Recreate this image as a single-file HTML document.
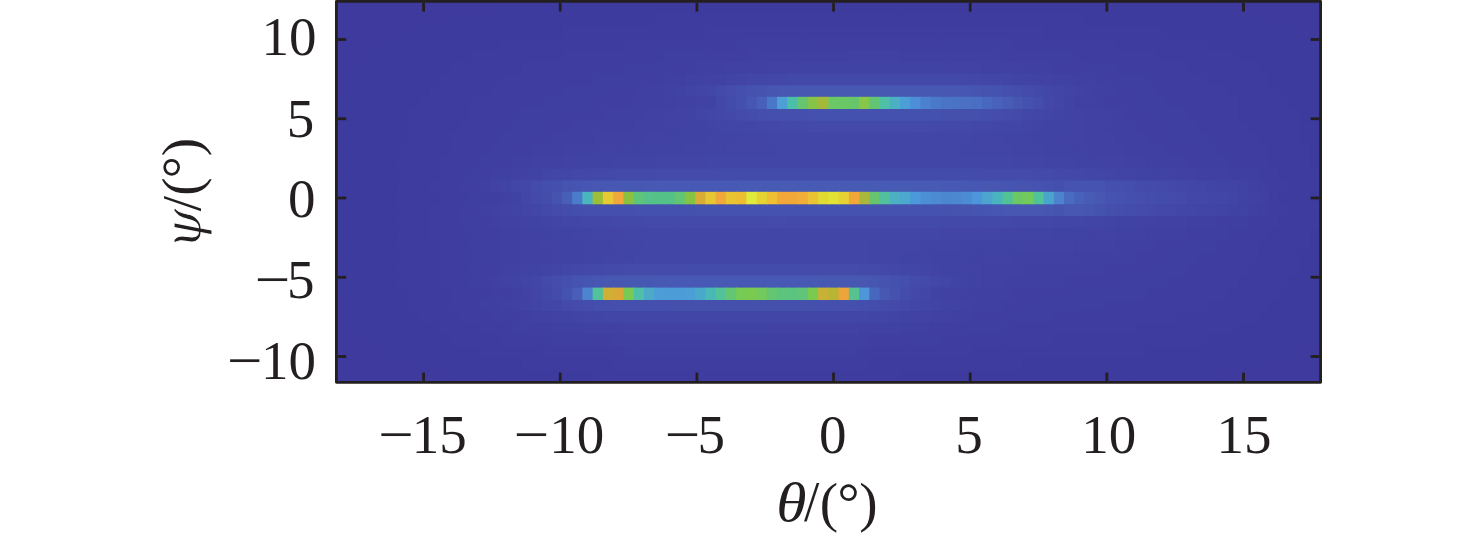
<!DOCTYPE html>
<html><head><meta charset="utf-8"><title>plot</title>
<style>
html,body{margin:0;padding:0;background:#fff;}
body{width:1476px;height:538px;overflow:hidden;}
svg{display:block;}
text{font-family:"Liberation Serif","DejaVu Serif",serif;font-size:55.0px;fill:#231f20;}
.i{font-style:italic;}
</style></head><body>
<svg width="1476" height="538" viewBox="0 0 1476 538">
<rect x="0" y="0" width="1476" height="538" fill="#fff"/>
<rect x="336.4" y="1.4" width="984.2" height="380.9" fill="#3E3A9E"/>
<g>
<rect x="336.40" y="2.00" width="154.74" height="12.89" fill="#3E3A9E"/>
<rect x="490.13" y="2.00" width="82.99" height="12.89" fill="#3E3B9E"/>
<rect x="572.13" y="2.00" width="585.19" height="12.89" fill="#3E3B9F"/>
<rect x="1156.32" y="2.00" width="72.74" height="12.89" fill="#3E3B9E"/>
<rect x="1228.06" y="2.00" width="92.24" height="12.89" fill="#3E3A9E"/>
<rect x="336.40" y="13.89" width="103.49" height="12.89" fill="#3E3A9E"/>
<rect x="438.89" y="13.89" width="52.25" height="12.89" fill="#3E3B9E"/>
<rect x="490.13" y="13.89" width="164.98" height="12.89" fill="#3E3B9F"/>
<rect x="654.12" y="13.89" width="195.73" height="12.89" fill="#3F3C9F"/>
<rect x="848.85" y="13.89" width="52.25" height="12.89" fill="#3F3CA0"/>
<rect x="900.10" y="13.89" width="185.48" height="12.89" fill="#3F3C9F"/>
<rect x="1084.58" y="13.89" width="144.49" height="12.89" fill="#3E3B9F"/>
<rect x="1228.06" y="13.89" width="42.00" height="12.89" fill="#3E3B9E"/>
<rect x="1269.06" y="13.89" width="51.25" height="12.89" fill="#3E3A9E"/>
<rect x="336.40" y="25.77" width="72.74" height="12.89" fill="#3E3A9E"/>
<rect x="408.14" y="25.77" width="31.75" height="12.89" fill="#3E3B9E"/>
<rect x="438.89" y="25.77" width="123.99" height="12.89" fill="#3E3B9F"/>
<rect x="561.88" y="25.77" width="113.74" height="12.89" fill="#3F3C9F"/>
<rect x="674.62" y="25.77" width="31.75" height="12.89" fill="#3F3CA0"/>
<rect x="705.36" y="25.77" width="339.22" height="12.89" fill="#3F3DA0"/>
<rect x="1043.58" y="25.77" width="21.50" height="12.89" fill="#3F3CA0"/>
<rect x="1064.08" y="25.77" width="103.49" height="12.89" fill="#3F3C9F"/>
<rect x="1166.57" y="25.77" width="103.49" height="12.89" fill="#3E3B9F"/>
<rect x="1269.06" y="25.77" width="31.75" height="12.89" fill="#3E3B9E"/>
<rect x="1299.81" y="25.77" width="20.50" height="12.89" fill="#3E3A9E"/>
<rect x="336.40" y="37.66" width="52.25" height="12.89" fill="#3E3A9E"/>
<rect x="387.64" y="37.66" width="31.75" height="12.89" fill="#3E3B9E"/>
<rect x="418.39" y="37.66" width="82.99" height="12.89" fill="#3E3B9F"/>
<rect x="500.38" y="37.66" width="93.24" height="12.89" fill="#3F3C9F"/>
<rect x="592.62" y="37.66" width="31.75" height="12.89" fill="#3F3CA0"/>
<rect x="623.37" y="37.66" width="93.24" height="12.89" fill="#3F3DA0"/>
<rect x="715.61" y="37.66" width="21.50" height="12.89" fill="#3F3EA0"/>
<rect x="736.11" y="37.66" width="72.74" height="12.89" fill="#3F3EA1"/>
<rect x="807.85" y="37.66" width="134.24" height="12.89" fill="#403FA1"/>
<rect x="941.09" y="37.66" width="72.74" height="12.89" fill="#3F3EA1"/>
<rect x="1012.83" y="37.66" width="21.50" height="12.89" fill="#3F3EA0"/>
<rect x="1033.33" y="37.66" width="82.99" height="12.89" fill="#3F3DA0"/>
<rect x="1115.32" y="37.66" width="21.50" height="12.89" fill="#3F3CA0"/>
<rect x="1135.82" y="37.66" width="72.74" height="12.89" fill="#3F3C9F"/>
<rect x="1207.57" y="37.66" width="82.99" height="12.89" fill="#3E3B9F"/>
<rect x="1289.56" y="37.66" width="30.75" height="12.89" fill="#3E3B9E"/>
<rect x="336.40" y="49.55" width="31.75" height="12.89" fill="#3E3A9E"/>
<rect x="367.15" y="49.55" width="31.75" height="12.89" fill="#3E3B9E"/>
<rect x="397.89" y="49.55" width="72.74" height="12.89" fill="#3E3B9F"/>
<rect x="469.64" y="49.55" width="72.74" height="12.89" fill="#3F3C9F"/>
<rect x="541.38" y="49.55" width="21.50" height="12.89" fill="#3F3CA0"/>
<rect x="561.88" y="49.55" width="93.24" height="12.89" fill="#3F3DA0"/>
<rect x="654.12" y="49.55" width="11.25" height="12.89" fill="#3F3EA0"/>
<rect x="664.37" y="49.55" width="42.00" height="12.89" fill="#3F3EA1"/>
<rect x="705.36" y="49.55" width="42.00" height="12.89" fill="#403FA1"/>
<rect x="746.36" y="49.55" width="11.25" height="12.89" fill="#403FA2"/>
<rect x="756.61" y="49.55" width="93.24" height="12.89" fill="#4040A2"/>
<rect x="848.85" y="49.55" width="52.25" height="12.89" fill="#4041A2"/>
<rect x="900.10" y="49.55" width="93.24" height="12.89" fill="#4040A2"/>
<rect x="992.34" y="49.55" width="11.25" height="12.89" fill="#403FA2"/>
<rect x="1002.59" y="49.55" width="42.00" height="12.89" fill="#403FA1"/>
<rect x="1043.58" y="49.55" width="31.75" height="12.89" fill="#3F3EA1"/>
<rect x="1074.33" y="49.55" width="21.50" height="12.89" fill="#3F3EA0"/>
<rect x="1094.83" y="49.55" width="62.49" height="12.89" fill="#3F3DA0"/>
<rect x="1156.32" y="49.55" width="21.50" height="12.89" fill="#3F3CA0"/>
<rect x="1176.82" y="49.55" width="62.49" height="12.89" fill="#3F3C9F"/>
<rect x="1238.31" y="49.55" width="72.74" height="12.89" fill="#3E3B9F"/>
<rect x="1310.06" y="49.55" width="10.25" height="12.89" fill="#3E3B9E"/>
<rect x="336.40" y="61.44" width="21.50" height="12.89" fill="#3E3A9E"/>
<rect x="356.90" y="61.44" width="31.75" height="12.89" fill="#3E3B9E"/>
<rect x="387.64" y="61.44" width="62.49" height="12.89" fill="#3E3B9F"/>
<rect x="449.14" y="61.44" width="62.49" height="12.89" fill="#3F3C9F"/>
<rect x="510.63" y="61.44" width="11.25" height="12.89" fill="#3F3CA0"/>
<rect x="520.88" y="61.44" width="82.99" height="12.89" fill="#3F3DA0"/>
<rect x="602.87" y="61.44" width="21.50" height="12.89" fill="#3F3EA0"/>
<rect x="623.37" y="61.44" width="42.00" height="12.89" fill="#3F3EA1"/>
<rect x="664.37" y="61.44" width="31.75" height="12.89" fill="#403FA1"/>
<rect x="695.12" y="61.44" width="11.25" height="12.89" fill="#403FA2"/>
<rect x="705.36" y="61.44" width="21.50" height="12.89" fill="#4040A2"/>
<rect x="725.86" y="61.44" width="11.25" height="12.89" fill="#4041A2"/>
<rect x="736.11" y="61.44" width="31.75" height="12.89" fill="#4041A3"/>
<rect x="766.86" y="61.44" width="31.75" height="12.89" fill="#4142A3"/>
<rect x="797.61" y="61.44" width="11.25" height="12.89" fill="#4142A4"/>
<rect x="807.85" y="61.44" width="134.24" height="12.89" fill="#4143A4"/>
<rect x="941.09" y="61.44" width="11.25" height="12.89" fill="#4142A4"/>
<rect x="951.34" y="61.44" width="31.75" height="12.89" fill="#4142A3"/>
<rect x="982.09" y="61.44" width="31.75" height="12.89" fill="#4041A3"/>
<rect x="1012.83" y="61.44" width="11.25" height="12.89" fill="#4041A2"/>
<rect x="1023.08" y="61.44" width="31.75" height="12.89" fill="#4040A2"/>
<rect x="1053.83" y="61.44" width="31.75" height="12.89" fill="#403FA1"/>
<rect x="1084.58" y="61.44" width="31.75" height="12.89" fill="#3F3EA1"/>
<rect x="1115.32" y="61.44" width="11.25" height="12.89" fill="#3F3EA0"/>
<rect x="1125.57" y="61.44" width="62.49" height="12.89" fill="#3F3DA0"/>
<rect x="1187.07" y="61.44" width="21.50" height="12.89" fill="#3F3CA0"/>
<rect x="1207.57" y="61.44" width="52.25" height="12.89" fill="#3F3C9F"/>
<rect x="1258.81" y="61.44" width="61.49" height="12.89" fill="#3E3B9F"/>
<rect x="336.40" y="73.32" width="11.25" height="12.89" fill="#3E3A9E"/>
<rect x="346.65" y="73.32" width="31.75" height="12.89" fill="#3E3B9E"/>
<rect x="377.40" y="73.32" width="62.49" height="12.89" fill="#3E3B9F"/>
<rect x="438.89" y="73.32" width="52.25" height="12.89" fill="#3F3C9F"/>
<rect x="490.13" y="73.32" width="11.25" height="12.89" fill="#3F3CA0"/>
<rect x="500.38" y="73.32" width="72.74" height="12.89" fill="#3F3DA0"/>
<rect x="572.13" y="73.32" width="21.50" height="12.89" fill="#3F3EA0"/>
<rect x="592.62" y="73.32" width="42.00" height="12.89" fill="#3F3EA1"/>
<rect x="633.62" y="73.32" width="31.75" height="12.89" fill="#403FA1"/>
<rect x="664.37" y="73.32" width="21.50" height="12.89" fill="#4040A2"/>
<rect x="684.87" y="73.32" width="21.50" height="12.89" fill="#4041A3"/>
<rect x="705.36" y="73.32" width="11.25" height="12.89" fill="#4142A4"/>
<rect x="715.61" y="73.32" width="11.25" height="12.89" fill="#4143A4"/>
<rect x="725.86" y="73.32" width="11.25" height="12.89" fill="#4144A5"/>
<rect x="736.11" y="73.32" width="11.25" height="12.89" fill="#4245A6"/>
<rect x="746.36" y="73.32" width="11.25" height="12.89" fill="#4246A7"/>
<rect x="756.61" y="73.32" width="11.25" height="12.89" fill="#4247A7"/>
<rect x="766.86" y="73.32" width="21.50" height="12.89" fill="#4348A8"/>
<rect x="787.36" y="73.32" width="11.25" height="12.89" fill="#4349A8"/>
<rect x="797.61" y="73.32" width="154.74" height="12.89" fill="#4349A9"/>
<rect x="951.34" y="73.32" width="11.25" height="12.89" fill="#4349A8"/>
<rect x="961.59" y="73.32" width="21.50" height="12.89" fill="#4348A8"/>
<rect x="982.09" y="73.32" width="11.25" height="12.89" fill="#4247A7"/>
<rect x="992.34" y="73.32" width="11.25" height="12.89" fill="#4246A6"/>
<rect x="1002.59" y="73.32" width="11.25" height="12.89" fill="#4245A6"/>
<rect x="1012.83" y="73.32" width="11.25" height="12.89" fill="#4144A5"/>
<rect x="1023.08" y="73.32" width="11.25" height="12.89" fill="#4144A4"/>
<rect x="1033.33" y="73.32" width="11.25" height="12.89" fill="#4143A4"/>
<rect x="1043.58" y="73.32" width="11.25" height="12.89" fill="#4142A3"/>
<rect x="1053.83" y="73.32" width="11.25" height="12.89" fill="#4041A3"/>
<rect x="1064.08" y="73.32" width="11.25" height="12.89" fill="#4041A2"/>
<rect x="1074.33" y="73.32" width="11.25" height="12.89" fill="#4040A2"/>
<rect x="1084.58" y="73.32" width="11.25" height="12.89" fill="#403FA2"/>
<rect x="1094.83" y="73.32" width="21.50" height="12.89" fill="#403FA1"/>
<rect x="1115.32" y="73.32" width="31.75" height="12.89" fill="#3F3EA1"/>
<rect x="1146.07" y="73.32" width="11.25" height="12.89" fill="#3F3EA0"/>
<rect x="1156.32" y="73.32" width="52.25" height="12.89" fill="#3F3DA0"/>
<rect x="1207.57" y="73.32" width="21.50" height="12.89" fill="#3F3CA0"/>
<rect x="1228.06" y="73.32" width="42.00" height="12.89" fill="#3F3C9F"/>
<rect x="1269.06" y="73.32" width="51.25" height="12.89" fill="#3E3B9F"/>
<rect x="336.40" y="85.21" width="11.25" height="12.89" fill="#3E3A9E"/>
<rect x="346.65" y="85.21" width="21.50" height="12.89" fill="#3E3B9E"/>
<rect x="367.15" y="85.21" width="62.49" height="12.89" fill="#3E3B9F"/>
<rect x="428.64" y="85.21" width="42.00" height="12.89" fill="#3F3C9F"/>
<rect x="469.64" y="85.21" width="21.50" height="12.89" fill="#3F3CA0"/>
<rect x="490.13" y="85.21" width="52.25" height="12.89" fill="#3F3DA0"/>
<rect x="541.38" y="85.21" width="21.50" height="12.89" fill="#3F3EA0"/>
<rect x="561.88" y="85.21" width="42.00" height="12.89" fill="#3F3EA1"/>
<rect x="602.87" y="85.21" width="31.75" height="12.89" fill="#403FA1"/>
<rect x="633.62" y="85.21" width="11.25" height="12.89" fill="#403FA2"/>
<rect x="643.87" y="85.21" width="21.50" height="12.89" fill="#4040A2"/>
<rect x="664.37" y="85.21" width="11.25" height="12.89" fill="#4041A3"/>
<rect x="674.62" y="85.21" width="11.25" height="12.89" fill="#4142A3"/>
<rect x="684.87" y="85.21" width="11.25" height="12.89" fill="#4144A4"/>
<rect x="695.12" y="85.21" width="11.25" height="12.89" fill="#4245A6"/>
<rect x="705.36" y="85.21" width="11.25" height="12.89" fill="#4247A7"/>
<rect x="715.61" y="85.21" width="11.25" height="12.89" fill="#434AA9"/>
<rect x="725.86" y="85.21" width="11.25" height="12.89" fill="#444DAB"/>
<rect x="736.11" y="85.21" width="11.25" height="12.89" fill="#454FAD"/>
<rect x="746.36" y="85.21" width="11.25" height="12.89" fill="#4652AF"/>
<rect x="756.61" y="85.21" width="11.25" height="12.89" fill="#4654B0"/>
<rect x="766.86" y="85.21" width="11.25" height="12.89" fill="#4656B1"/>
<rect x="777.11" y="85.21" width="21.50" height="12.89" fill="#4757B2"/>
<rect x="797.61" y="85.21" width="11.25" height="12.89" fill="#4757B3"/>
<rect x="807.85" y="85.21" width="134.24" height="12.89" fill="#4758B3"/>
<rect x="941.09" y="85.21" width="11.25" height="12.89" fill="#4757B3"/>
<rect x="951.34" y="85.21" width="11.25" height="12.89" fill="#4757B2"/>
<rect x="961.59" y="85.21" width="11.25" height="12.89" fill="#4756B2"/>
<rect x="971.84" y="85.21" width="11.25" height="12.89" fill="#4655B1"/>
<rect x="982.09" y="85.21" width="11.25" height="12.89" fill="#4654B0"/>
<rect x="992.34" y="85.21" width="11.25" height="12.89" fill="#4552AF"/>
<rect x="1002.59" y="85.21" width="11.25" height="12.89" fill="#4550AD"/>
<rect x="1012.83" y="85.21" width="11.25" height="12.89" fill="#444DAC"/>
<rect x="1023.08" y="85.21" width="11.25" height="12.89" fill="#444BAA"/>
<rect x="1033.33" y="85.21" width="11.25" height="12.89" fill="#4349A9"/>
<rect x="1043.58" y="85.21" width="11.25" height="12.89" fill="#4247A7"/>
<rect x="1053.83" y="85.21" width="11.25" height="12.89" fill="#4245A6"/>
<rect x="1064.08" y="85.21" width="11.25" height="12.89" fill="#4144A5"/>
<rect x="1074.33" y="85.21" width="11.25" height="12.89" fill="#4142A4"/>
<rect x="1084.58" y="85.21" width="11.25" height="12.89" fill="#4041A3"/>
<rect x="1094.83" y="85.21" width="11.25" height="12.89" fill="#4040A2"/>
<rect x="1105.08" y="85.21" width="11.25" height="12.89" fill="#403FA2"/>
<rect x="1115.32" y="85.21" width="21.50" height="12.89" fill="#403FA1"/>
<rect x="1135.82" y="85.21" width="21.50" height="12.89" fill="#3F3EA1"/>
<rect x="1156.32" y="85.21" width="21.50" height="12.89" fill="#3F3EA0"/>
<rect x="1176.82" y="85.21" width="52.25" height="12.89" fill="#3F3DA0"/>
<rect x="1228.06" y="85.21" width="11.25" height="12.89" fill="#3F3CA0"/>
<rect x="1238.31" y="85.21" width="42.00" height="12.89" fill="#3F3C9F"/>
<rect x="1279.31" y="85.21" width="41.00" height="12.89" fill="#3E3B9F"/>
<rect x="336.40" y="108.99" width="21.50" height="12.89" fill="#3E3B9E"/>
<rect x="356.90" y="108.99" width="52.25" height="12.89" fill="#3E3B9F"/>
<rect x="408.14" y="108.99" width="42.00" height="12.89" fill="#3F3C9F"/>
<rect x="449.14" y="108.99" width="21.50" height="12.89" fill="#3F3CA0"/>
<rect x="469.64" y="108.99" width="42.00" height="12.89" fill="#3F3DA0"/>
<rect x="510.63" y="108.99" width="11.25" height="12.89" fill="#3F3EA0"/>
<rect x="520.88" y="108.99" width="42.00" height="12.89" fill="#3F3EA1"/>
<rect x="561.88" y="108.99" width="42.00" height="12.89" fill="#403FA1"/>
<rect x="602.87" y="108.99" width="11.25" height="12.89" fill="#403FA2"/>
<rect x="613.12" y="108.99" width="31.75" height="12.89" fill="#4040A2"/>
<rect x="643.87" y="108.99" width="11.25" height="12.89" fill="#4041A2"/>
<rect x="654.12" y="108.99" width="11.25" height="12.89" fill="#4041A3"/>
<rect x="664.37" y="108.99" width="11.25" height="12.89" fill="#4142A3"/>
<rect x="674.62" y="108.99" width="11.25" height="12.89" fill="#4142A4"/>
<rect x="684.87" y="108.99" width="11.25" height="12.89" fill="#4143A4"/>
<rect x="695.12" y="108.99" width="11.25" height="12.89" fill="#4245A5"/>
<rect x="705.36" y="108.99" width="11.25" height="12.89" fill="#4246A6"/>
<rect x="715.61" y="108.99" width="11.25" height="12.89" fill="#4348A8"/>
<rect x="725.86" y="108.99" width="11.25" height="12.89" fill="#4349A9"/>
<rect x="736.11" y="108.99" width="11.25" height="12.89" fill="#444BAA"/>
<rect x="746.36" y="108.99" width="11.25" height="12.89" fill="#444DAB"/>
<rect x="756.61" y="108.99" width="11.25" height="12.89" fill="#454EAC"/>
<rect x="766.86" y="108.99" width="11.25" height="12.89" fill="#454FAD"/>
<rect x="777.11" y="108.99" width="11.25" height="12.89" fill="#4550AD"/>
<rect x="787.36" y="108.99" width="21.50" height="12.89" fill="#4550AE"/>
<rect x="807.85" y="108.99" width="134.24" height="12.89" fill="#4551AE"/>
<rect x="941.09" y="108.99" width="11.25" height="12.89" fill="#4550AE"/>
<rect x="951.34" y="108.99" width="21.50" height="12.89" fill="#4550AD"/>
<rect x="971.84" y="108.99" width="11.25" height="12.89" fill="#454FAD"/>
<rect x="982.09" y="108.99" width="11.25" height="12.89" fill="#444EAC"/>
<rect x="992.34" y="108.99" width="11.25" height="12.89" fill="#444DAB"/>
<rect x="1002.59" y="108.99" width="11.25" height="12.89" fill="#444BAA"/>
<rect x="1012.83" y="108.99" width="11.25" height="12.89" fill="#434AA9"/>
<rect x="1023.08" y="108.99" width="11.25" height="12.89" fill="#4348A8"/>
<rect x="1033.33" y="108.99" width="11.25" height="12.89" fill="#4247A7"/>
<rect x="1043.58" y="108.99" width="11.25" height="12.89" fill="#4245A6"/>
<rect x="1053.83" y="108.99" width="11.25" height="12.89" fill="#4144A5"/>
<rect x="1064.08" y="108.99" width="11.25" height="12.89" fill="#4143A4"/>
<rect x="1074.33" y="108.99" width="11.25" height="12.89" fill="#4142A3"/>
<rect x="1084.58" y="108.99" width="11.25" height="12.89" fill="#4041A3"/>
<rect x="1094.83" y="108.99" width="11.25" height="12.89" fill="#4041A2"/>
<rect x="1105.08" y="108.99" width="21.50" height="12.89" fill="#4040A2"/>
<rect x="1125.57" y="108.99" width="31.75" height="12.89" fill="#403FA1"/>
<rect x="1156.32" y="108.99" width="31.75" height="12.89" fill="#3F3EA1"/>
<rect x="1187.07" y="108.99" width="11.25" height="12.89" fill="#3F3EA0"/>
<rect x="1197.32" y="108.99" width="42.00" height="12.89" fill="#3F3DA0"/>
<rect x="1238.31" y="108.99" width="21.50" height="12.89" fill="#3F3CA0"/>
<rect x="1258.81" y="108.99" width="42.00" height="12.89" fill="#3F3C9F"/>
<rect x="1299.81" y="108.99" width="20.50" height="12.89" fill="#3E3B9F"/>
<rect x="336.40" y="120.88" width="21.50" height="12.89" fill="#3E3B9E"/>
<rect x="356.90" y="120.88" width="52.25" height="12.89" fill="#3E3B9F"/>
<rect x="408.14" y="120.88" width="42.00" height="12.89" fill="#3F3C9F"/>
<rect x="449.14" y="120.88" width="11.25" height="12.89" fill="#3F3CA0"/>
<rect x="459.39" y="120.88" width="42.00" height="12.89" fill="#3F3DA0"/>
<rect x="500.38" y="120.88" width="11.25" height="12.89" fill="#3F3EA0"/>
<rect x="510.63" y="120.88" width="31.75" height="12.89" fill="#3F3EA1"/>
<rect x="541.38" y="120.88" width="31.75" height="12.89" fill="#403FA1"/>
<rect x="572.13" y="120.88" width="11.25" height="12.89" fill="#403FA2"/>
<rect x="582.38" y="120.88" width="52.25" height="12.89" fill="#4040A2"/>
<rect x="633.62" y="120.88" width="31.75" height="12.89" fill="#4041A3"/>
<rect x="664.37" y="120.88" width="11.25" height="12.89" fill="#4142A3"/>
<rect x="674.62" y="120.88" width="11.25" height="12.89" fill="#4142A4"/>
<rect x="684.87" y="120.88" width="21.50" height="12.89" fill="#4143A4"/>
<rect x="705.36" y="120.88" width="11.25" height="12.89" fill="#4144A5"/>
<rect x="715.61" y="120.88" width="11.25" height="12.89" fill="#4245A5"/>
<rect x="725.86" y="120.88" width="11.25" height="12.89" fill="#4246A6"/>
<rect x="736.11" y="120.88" width="11.25" height="12.89" fill="#4246A7"/>
<rect x="746.36" y="120.88" width="11.25" height="12.89" fill="#4247A7"/>
<rect x="756.61" y="120.88" width="21.50" height="12.89" fill="#4348A8"/>
<rect x="777.11" y="120.88" width="11.25" height="12.89" fill="#4349A8"/>
<rect x="787.36" y="120.88" width="21.50" height="12.89" fill="#4349A9"/>
<rect x="807.85" y="120.88" width="123.99" height="12.89" fill="#434AA9"/>
<rect x="930.84" y="120.88" width="31.75" height="12.89" fill="#4349A9"/>
<rect x="961.59" y="120.88" width="11.25" height="12.89" fill="#4349A8"/>
<rect x="971.84" y="120.88" width="21.50" height="12.89" fill="#4348A8"/>
<rect x="992.34" y="120.88" width="11.25" height="12.89" fill="#4247A7"/>
<rect x="1002.59" y="120.88" width="11.25" height="12.89" fill="#4246A7"/>
<rect x="1012.83" y="120.88" width="11.25" height="12.89" fill="#4246A6"/>
<rect x="1023.08" y="120.88" width="11.25" height="12.89" fill="#4245A5"/>
<rect x="1033.33" y="120.88" width="11.25" height="12.89" fill="#4144A5"/>
<rect x="1043.58" y="120.88" width="21.50" height="12.89" fill="#4143A4"/>
<rect x="1064.08" y="120.88" width="21.50" height="12.89" fill="#4142A3"/>
<rect x="1084.58" y="120.88" width="11.25" height="12.89" fill="#4041A3"/>
<rect x="1094.83" y="120.88" width="11.25" height="12.89" fill="#4041A2"/>
<rect x="1105.08" y="120.88" width="21.50" height="12.89" fill="#4040A2"/>
<rect x="1125.57" y="120.88" width="11.25" height="12.89" fill="#403FA2"/>
<rect x="1135.82" y="120.88" width="31.75" height="12.89" fill="#403FA1"/>
<rect x="1166.57" y="120.88" width="31.75" height="12.89" fill="#3F3EA1"/>
<rect x="1197.32" y="120.88" width="11.25" height="12.89" fill="#3F3EA0"/>
<rect x="1207.57" y="120.88" width="42.00" height="12.89" fill="#3F3DA0"/>
<rect x="1248.56" y="120.88" width="11.25" height="12.89" fill="#3F3CA0"/>
<rect x="1258.81" y="120.88" width="42.00" height="12.89" fill="#3F3C9F"/>
<rect x="1299.81" y="120.88" width="20.50" height="12.89" fill="#3E3B9F"/>
<rect x="336.40" y="132.76" width="21.50" height="12.89" fill="#3E3B9E"/>
<rect x="356.90" y="132.76" width="52.25" height="12.89" fill="#3E3B9F"/>
<rect x="408.14" y="132.76" width="31.75" height="12.89" fill="#3F3C9F"/>
<rect x="438.89" y="132.76" width="11.25" height="12.89" fill="#3F3CA0"/>
<rect x="449.14" y="132.76" width="42.00" height="12.89" fill="#3F3DA0"/>
<rect x="490.13" y="132.76" width="11.25" height="12.89" fill="#3F3EA0"/>
<rect x="500.38" y="132.76" width="21.50" height="12.89" fill="#3F3EA1"/>
<rect x="520.88" y="132.76" width="31.75" height="12.89" fill="#403FA1"/>
<rect x="551.63" y="132.76" width="11.25" height="12.89" fill="#403FA2"/>
<rect x="561.88" y="132.76" width="31.75" height="12.89" fill="#4040A2"/>
<rect x="592.62" y="132.76" width="21.50" height="12.89" fill="#4041A2"/>
<rect x="613.12" y="132.76" width="31.75" height="12.89" fill="#4041A3"/>
<rect x="643.87" y="132.76" width="21.50" height="12.89" fill="#4142A3"/>
<rect x="664.37" y="132.76" width="11.25" height="12.89" fill="#4142A4"/>
<rect x="674.62" y="132.76" width="31.75" height="12.89" fill="#4143A4"/>
<rect x="705.36" y="132.76" width="11.25" height="12.89" fill="#4144A4"/>
<rect x="715.61" y="132.76" width="21.50" height="12.89" fill="#4144A5"/>
<rect x="736.11" y="132.76" width="11.25" height="12.89" fill="#4245A5"/>
<rect x="746.36" y="132.76" width="21.50" height="12.89" fill="#4245A6"/>
<rect x="766.86" y="132.76" width="42.00" height="12.89" fill="#4246A6"/>
<rect x="807.85" y="132.76" width="21.50" height="12.89" fill="#4246A7"/>
<rect x="828.35" y="132.76" width="82.99" height="12.89" fill="#4247A7"/>
<rect x="910.34" y="132.76" width="31.75" height="12.89" fill="#4246A7"/>
<rect x="941.09" y="132.76" width="31.75" height="12.89" fill="#4246A6"/>
<rect x="971.84" y="132.76" width="21.50" height="12.89" fill="#4245A6"/>
<rect x="992.34" y="132.76" width="11.25" height="12.89" fill="#4245A5"/>
<rect x="1002.59" y="132.76" width="31.75" height="12.89" fill="#4144A5"/>
<rect x="1033.33" y="132.76" width="21.50" height="12.89" fill="#4143A4"/>
<rect x="1053.83" y="132.76" width="11.25" height="12.89" fill="#4142A4"/>
<rect x="1064.08" y="132.76" width="21.50" height="12.89" fill="#4142A3"/>
<rect x="1084.58" y="132.76" width="21.50" height="12.89" fill="#4041A3"/>
<rect x="1105.08" y="132.76" width="11.25" height="12.89" fill="#4041A2"/>
<rect x="1115.32" y="132.76" width="31.75" height="12.89" fill="#4040A2"/>
<rect x="1146.07" y="132.76" width="31.75" height="12.89" fill="#403FA1"/>
<rect x="1176.82" y="132.76" width="31.75" height="12.89" fill="#3F3EA1"/>
<rect x="1207.57" y="132.76" width="11.25" height="12.89" fill="#3F3EA0"/>
<rect x="1217.81" y="132.76" width="42.00" height="12.89" fill="#3F3DA0"/>
<rect x="1258.81" y="132.76" width="11.25" height="12.89" fill="#3F3CA0"/>
<rect x="1269.06" y="132.76" width="31.75" height="12.89" fill="#3F3C9F"/>
<rect x="1299.81" y="132.76" width="20.50" height="12.89" fill="#3E3B9F"/>
<rect x="336.40" y="144.65" width="21.50" height="12.89" fill="#3E3B9E"/>
<rect x="356.90" y="144.65" width="42.00" height="12.89" fill="#3E3B9F"/>
<rect x="397.89" y="144.65" width="42.00" height="12.89" fill="#3F3C9F"/>
<rect x="438.89" y="144.65" width="11.25" height="12.89" fill="#3F3CA0"/>
<rect x="449.14" y="144.65" width="31.75" height="12.89" fill="#3F3DA0"/>
<rect x="479.89" y="144.65" width="11.25" height="12.89" fill="#3F3EA0"/>
<rect x="490.13" y="144.65" width="21.50" height="12.89" fill="#3F3EA1"/>
<rect x="510.63" y="144.65" width="21.50" height="12.89" fill="#403FA1"/>
<rect x="531.13" y="144.65" width="31.75" height="12.89" fill="#4040A2"/>
<rect x="561.88" y="144.65" width="11.25" height="12.89" fill="#4041A2"/>
<rect x="572.13" y="144.65" width="21.50" height="12.89" fill="#4041A3"/>
<rect x="592.62" y="144.65" width="31.75" height="12.89" fill="#4142A3"/>
<rect x="623.37" y="144.65" width="11.25" height="12.89" fill="#4142A4"/>
<rect x="633.62" y="144.65" width="52.25" height="12.89" fill="#4143A4"/>
<rect x="684.87" y="144.65" width="42.00" height="12.89" fill="#4144A5"/>
<rect x="725.86" y="144.65" width="21.50" height="12.89" fill="#4245A5"/>
<rect x="746.36" y="144.65" width="31.75" height="12.89" fill="#4245A6"/>
<rect x="777.11" y="144.65" width="72.74" height="12.89" fill="#4246A6"/>
<rect x="848.85" y="144.65" width="42.00" height="12.89" fill="#4246A7"/>
<rect x="889.85" y="144.65" width="72.74" height="12.89" fill="#4246A6"/>
<rect x="961.59" y="144.65" width="31.75" height="12.89" fill="#4245A6"/>
<rect x="992.34" y="144.65" width="21.50" height="12.89" fill="#4245A5"/>
<rect x="1012.83" y="144.65" width="21.50" height="12.89" fill="#4144A5"/>
<rect x="1033.33" y="144.65" width="11.25" height="12.89" fill="#4144A4"/>
<rect x="1043.58" y="144.65" width="31.75" height="12.89" fill="#4143A4"/>
<rect x="1074.33" y="144.65" width="21.50" height="12.89" fill="#4142A3"/>
<rect x="1094.83" y="144.65" width="21.50" height="12.89" fill="#4041A3"/>
<rect x="1115.32" y="144.65" width="11.25" height="12.89" fill="#4041A2"/>
<rect x="1125.57" y="144.65" width="31.75" height="12.89" fill="#4040A2"/>
<rect x="1156.32" y="144.65" width="11.25" height="12.89" fill="#403FA2"/>
<rect x="1166.57" y="144.65" width="31.75" height="12.89" fill="#403FA1"/>
<rect x="1197.32" y="144.65" width="21.50" height="12.89" fill="#3F3EA1"/>
<rect x="1217.81" y="144.65" width="11.25" height="12.89" fill="#3F3EA0"/>
<rect x="1228.06" y="144.65" width="42.00" height="12.89" fill="#3F3DA0"/>
<rect x="1269.06" y="144.65" width="11.25" height="12.89" fill="#3F3CA0"/>
<rect x="1279.31" y="144.65" width="31.75" height="12.89" fill="#3F3C9F"/>
<rect x="1310.06" y="144.65" width="10.25" height="12.89" fill="#3E3B9F"/>
<rect x="336.40" y="156.54" width="21.50" height="12.89" fill="#3E3B9E"/>
<rect x="356.90" y="156.54" width="42.00" height="12.89" fill="#3E3B9F"/>
<rect x="397.89" y="156.54" width="31.75" height="12.89" fill="#3F3C9F"/>
<rect x="428.64" y="156.54" width="11.25" height="12.89" fill="#3F3CA0"/>
<rect x="438.89" y="156.54" width="31.75" height="12.89" fill="#3F3DA0"/>
<rect x="469.64" y="156.54" width="11.25" height="12.89" fill="#3F3EA0"/>
<rect x="479.89" y="156.54" width="11.25" height="12.89" fill="#3F3EA1"/>
<rect x="490.13" y="156.54" width="21.50" height="12.89" fill="#403FA1"/>
<rect x="510.63" y="156.54" width="21.50" height="12.89" fill="#4040A2"/>
<rect x="531.13" y="156.54" width="11.25" height="12.89" fill="#4041A2"/>
<rect x="541.38" y="156.54" width="21.50" height="12.89" fill="#4041A3"/>
<rect x="561.88" y="156.54" width="11.25" height="12.89" fill="#4142A3"/>
<rect x="572.13" y="156.54" width="11.25" height="12.89" fill="#4142A4"/>
<rect x="582.38" y="156.54" width="31.75" height="12.89" fill="#4143A4"/>
<rect x="613.12" y="156.54" width="42.00" height="12.89" fill="#4144A5"/>
<rect x="654.12" y="156.54" width="21.50" height="12.89" fill="#4245A5"/>
<rect x="674.62" y="156.54" width="31.75" height="12.89" fill="#4245A6"/>
<rect x="705.36" y="156.54" width="52.25" height="12.89" fill="#4246A6"/>
<rect x="756.61" y="156.54" width="21.50" height="12.89" fill="#4246A7"/>
<rect x="777.11" y="156.54" width="175.23" height="12.89" fill="#4247A7"/>
<rect x="951.34" y="156.54" width="21.50" height="12.89" fill="#4246A7"/>
<rect x="971.84" y="156.54" width="42.00" height="12.89" fill="#4246A6"/>
<rect x="1012.83" y="156.54" width="21.50" height="12.89" fill="#4245A6"/>
<rect x="1033.33" y="156.54" width="11.25" height="12.89" fill="#4245A5"/>
<rect x="1043.58" y="156.54" width="21.50" height="12.89" fill="#4144A5"/>
<rect x="1064.08" y="156.54" width="11.25" height="12.89" fill="#4144A4"/>
<rect x="1074.33" y="156.54" width="21.50" height="12.89" fill="#4143A4"/>
<rect x="1094.83" y="156.54" width="11.25" height="12.89" fill="#4142A4"/>
<rect x="1105.08" y="156.54" width="21.50" height="12.89" fill="#4142A3"/>
<rect x="1125.57" y="156.54" width="21.50" height="12.89" fill="#4041A3"/>
<rect x="1146.07" y="156.54" width="31.75" height="12.89" fill="#4040A2"/>
<rect x="1176.82" y="156.54" width="11.25" height="12.89" fill="#403FA2"/>
<rect x="1187.07" y="156.54" width="21.50" height="12.89" fill="#403FA1"/>
<rect x="1207.57" y="156.54" width="21.50" height="12.89" fill="#3F3EA1"/>
<rect x="1228.06" y="156.54" width="11.25" height="12.89" fill="#3F3EA0"/>
<rect x="1238.31" y="156.54" width="31.75" height="12.89" fill="#3F3DA0"/>
<rect x="1269.06" y="156.54" width="11.25" height="12.89" fill="#3F3CA0"/>
<rect x="1279.31" y="156.54" width="31.75" height="12.89" fill="#3F3C9F"/>
<rect x="1310.06" y="156.54" width="10.25" height="12.89" fill="#3E3B9F"/>
<rect x="336.40" y="168.42" width="21.50" height="12.89" fill="#3E3B9E"/>
<rect x="356.90" y="168.42" width="42.00" height="12.89" fill="#3E3B9F"/>
<rect x="397.89" y="168.42" width="31.75" height="12.89" fill="#3F3C9F"/>
<rect x="428.64" y="168.42" width="11.25" height="12.89" fill="#3F3CA0"/>
<rect x="438.89" y="168.42" width="21.50" height="12.89" fill="#3F3DA0"/>
<rect x="459.39" y="168.42" width="11.25" height="12.89" fill="#3F3EA0"/>
<rect x="469.64" y="168.42" width="11.25" height="12.89" fill="#3F3EA1"/>
<rect x="479.89" y="168.42" width="11.25" height="12.89" fill="#403FA1"/>
<rect x="490.13" y="168.42" width="21.50" height="12.89" fill="#4040A2"/>
<rect x="510.63" y="168.42" width="11.25" height="12.89" fill="#4041A3"/>
<rect x="520.88" y="168.42" width="11.25" height="12.89" fill="#4142A4"/>
<rect x="531.13" y="168.42" width="11.25" height="12.89" fill="#4143A4"/>
<rect x="541.38" y="168.42" width="11.25" height="12.89" fill="#4245A5"/>
<rect x="551.63" y="168.42" width="11.25" height="12.89" fill="#4246A6"/>
<rect x="561.88" y="168.42" width="11.25" height="12.89" fill="#4247A7"/>
<rect x="572.13" y="168.42" width="21.50" height="12.89" fill="#4348A8"/>
<rect x="592.62" y="168.42" width="21.50" height="12.89" fill="#4349A9"/>
<rect x="613.12" y="168.42" width="21.50" height="12.89" fill="#434AA9"/>
<rect x="633.62" y="168.42" width="21.50" height="12.89" fill="#434AAA"/>
<rect x="654.12" y="168.42" width="52.25" height="12.89" fill="#444BAA"/>
<rect x="705.36" y="168.42" width="11.25" height="12.89" fill="#444BAB"/>
<rect x="715.61" y="168.42" width="267.47" height="12.89" fill="#444CAB"/>
<rect x="982.09" y="168.42" width="11.25" height="12.89" fill="#444BAB"/>
<rect x="992.34" y="168.42" width="42.00" height="12.89" fill="#444BAA"/>
<rect x="1033.33" y="168.42" width="11.25" height="12.89" fill="#434AAA"/>
<rect x="1043.58" y="168.42" width="11.25" height="12.89" fill="#434AA9"/>
<rect x="1053.83" y="168.42" width="11.25" height="12.89" fill="#4349A9"/>
<rect x="1064.08" y="168.42" width="11.25" height="12.89" fill="#4349A8"/>
<rect x="1074.33" y="168.42" width="11.25" height="12.89" fill="#4348A8"/>
<rect x="1084.58" y="168.42" width="11.25" height="12.89" fill="#4247A7"/>
<rect x="1094.83" y="168.42" width="11.25" height="12.89" fill="#4246A6"/>
<rect x="1105.08" y="168.42" width="11.25" height="12.89" fill="#4245A6"/>
<rect x="1115.32" y="168.42" width="21.50" height="12.89" fill="#4144A5"/>
<rect x="1135.82" y="168.42" width="21.50" height="12.89" fill="#4143A4"/>
<rect x="1156.32" y="168.42" width="21.50" height="12.89" fill="#4142A3"/>
<rect x="1176.82" y="168.42" width="11.25" height="12.89" fill="#4041A3"/>
<rect x="1187.07" y="168.42" width="11.25" height="12.89" fill="#4041A2"/>
<rect x="1197.32" y="168.42" width="21.50" height="12.89" fill="#4040A2"/>
<rect x="1217.81" y="168.42" width="11.25" height="12.89" fill="#403FA2"/>
<rect x="1228.06" y="168.42" width="11.25" height="12.89" fill="#403FA1"/>
<rect x="1238.31" y="168.42" width="21.50" height="12.89" fill="#3F3EA1"/>
<rect x="1258.81" y="168.42" width="21.50" height="12.89" fill="#3F3DA0"/>
<rect x="1279.31" y="168.42" width="11.25" height="12.89" fill="#3F3CA0"/>
<rect x="1289.56" y="168.42" width="30.75" height="12.89" fill="#3F3C9F"/>
<rect x="336.40" y="180.31" width="11.25" height="12.89" fill="#3E3B9E"/>
<rect x="346.65" y="180.31" width="52.25" height="12.89" fill="#3E3B9F"/>
<rect x="397.89" y="180.31" width="31.75" height="12.89" fill="#3F3C9F"/>
<rect x="428.64" y="180.31" width="31.75" height="12.89" fill="#3F3DA0"/>
<rect x="459.39" y="180.31" width="11.25" height="12.89" fill="#3F3EA1"/>
<rect x="469.64" y="180.31" width="11.25" height="12.89" fill="#403FA1"/>
<rect x="479.89" y="180.31" width="11.25" height="12.89" fill="#4040A2"/>
<rect x="490.13" y="180.31" width="11.25" height="12.89" fill="#4142A3"/>
<rect x="500.38" y="180.31" width="11.25" height="12.89" fill="#4144A5"/>
<rect x="510.63" y="180.31" width="11.25" height="12.89" fill="#4246A6"/>
<rect x="520.88" y="180.31" width="11.25" height="12.89" fill="#4348A8"/>
<rect x="531.13" y="180.31" width="11.25" height="12.89" fill="#444BAA"/>
<rect x="541.38" y="180.31" width="11.25" height="12.89" fill="#444EAC"/>
<rect x="551.63" y="180.31" width="11.25" height="12.89" fill="#4550AE"/>
<rect x="561.88" y="180.31" width="11.25" height="12.89" fill="#4653AF"/>
<rect x="572.13" y="180.31" width="11.25" height="12.89" fill="#4655B1"/>
<rect x="582.38" y="180.31" width="11.25" height="12.89" fill="#4756B2"/>
<rect x="592.62" y="180.31" width="11.25" height="12.89" fill="#4757B2"/>
<rect x="602.87" y="180.31" width="11.25" height="12.89" fill="#4757B3"/>
<rect x="613.12" y="180.31" width="31.75" height="12.89" fill="#4758B3"/>
<rect x="643.87" y="180.31" width="11.25" height="12.89" fill="#4759B3"/>
<rect x="654.12" y="180.31" width="82.99" height="12.89" fill="#4759B4"/>
<rect x="736.11" y="180.31" width="205.98" height="12.89" fill="#475AB4"/>
<rect x="941.09" y="180.31" width="21.50" height="12.89" fill="#4759B4"/>
<rect x="961.59" y="180.31" width="11.25" height="12.89" fill="#4758B3"/>
<rect x="971.84" y="180.31" width="11.25" height="12.89" fill="#4757B3"/>
<rect x="982.09" y="180.31" width="11.25" height="12.89" fill="#4757B2"/>
<rect x="992.34" y="180.31" width="11.25" height="12.89" fill="#4656B1"/>
<rect x="1002.59" y="180.31" width="11.25" height="12.89" fill="#4655B1"/>
<rect x="1012.83" y="180.31" width="11.25" height="12.89" fill="#4654B0"/>
<rect x="1023.08" y="180.31" width="11.25" height="12.89" fill="#4653AF"/>
<rect x="1033.33" y="180.31" width="11.25" height="12.89" fill="#4552AF"/>
<rect x="1043.58" y="180.31" width="11.25" height="12.89" fill="#4551AE"/>
<rect x="1053.83" y="180.31" width="11.25" height="12.89" fill="#4550AE"/>
<rect x="1064.08" y="180.31" width="42.00" height="12.89" fill="#4653B0"/>
<rect x="1105.08" y="180.31" width="11.25" height="12.89" fill="#4550AE"/>
<rect x="1115.32" y="180.31" width="11.25" height="12.89" fill="#454FAD"/>
<rect x="1125.57" y="180.31" width="11.25" height="12.89" fill="#444EAC"/>
<rect x="1135.82" y="180.31" width="11.25" height="12.89" fill="#444CAB"/>
<rect x="1146.07" y="180.31" width="11.25" height="12.89" fill="#444BAA"/>
<rect x="1156.32" y="180.31" width="11.25" height="12.89" fill="#434AA9"/>
<rect x="1166.57" y="180.31" width="11.25" height="12.89" fill="#4349A9"/>
<rect x="1176.82" y="180.31" width="11.25" height="12.89" fill="#4348A8"/>
<rect x="1187.07" y="180.31" width="11.25" height="12.89" fill="#4247A7"/>
<rect x="1197.32" y="180.31" width="11.25" height="12.89" fill="#4246A6"/>
<rect x="1207.57" y="180.31" width="11.25" height="12.89" fill="#4245A6"/>
<rect x="1217.81" y="180.31" width="11.25" height="12.89" fill="#4144A5"/>
<rect x="1228.06" y="180.31" width="11.25" height="12.89" fill="#4144A4"/>
<rect x="1238.31" y="180.31" width="11.25" height="12.89" fill="#4142A3"/>
<rect x="1248.56" y="180.31" width="11.25" height="12.89" fill="#4040A2"/>
<rect x="1258.81" y="180.31" width="11.25" height="12.89" fill="#403FA1"/>
<rect x="1269.06" y="180.31" width="21.50" height="12.89" fill="#3F3DA0"/>
<rect x="1289.56" y="180.31" width="11.25" height="12.89" fill="#3F3CA0"/>
<rect x="1299.81" y="180.31" width="20.50" height="12.89" fill="#3F3C9F"/>
<rect x="336.40" y="204.09" width="11.25" height="12.89" fill="#3E3B9E"/>
<rect x="346.65" y="204.09" width="52.25" height="12.89" fill="#3E3B9F"/>
<rect x="397.89" y="204.09" width="21.50" height="12.89" fill="#3F3C9F"/>
<rect x="418.39" y="204.09" width="11.25" height="12.89" fill="#3F3CA0"/>
<rect x="428.64" y="204.09" width="31.75" height="12.89" fill="#3F3DA0"/>
<rect x="459.39" y="204.09" width="11.25" height="12.89" fill="#3F3EA1"/>
<rect x="469.64" y="204.09" width="11.25" height="12.89" fill="#403FA1"/>
<rect x="479.89" y="204.09" width="11.25" height="12.89" fill="#4040A2"/>
<rect x="490.13" y="204.09" width="11.25" height="12.89" fill="#4041A3"/>
<rect x="500.38" y="204.09" width="11.25" height="12.89" fill="#4142A3"/>
<rect x="510.63" y="204.09" width="11.25" height="12.89" fill="#4144A4"/>
<rect x="520.88" y="204.09" width="11.25" height="12.89" fill="#4245A6"/>
<rect x="531.13" y="204.09" width="11.25" height="12.89" fill="#4247A7"/>
<rect x="541.38" y="204.09" width="11.25" height="12.89" fill="#4349A8"/>
<rect x="551.63" y="204.09" width="11.25" height="12.89" fill="#444BAA"/>
<rect x="561.88" y="204.09" width="11.25" height="12.89" fill="#444DAB"/>
<rect x="572.13" y="204.09" width="11.25" height="12.89" fill="#444EAC"/>
<rect x="582.38" y="204.09" width="21.50" height="12.89" fill="#454FAD"/>
<rect x="602.87" y="204.09" width="11.25" height="12.89" fill="#4550AD"/>
<rect x="613.12" y="204.09" width="21.50" height="12.89" fill="#4550AE"/>
<rect x="633.62" y="204.09" width="62.49" height="12.89" fill="#4551AE"/>
<rect x="695.12" y="204.09" width="21.50" height="12.89" fill="#4552AE"/>
<rect x="715.61" y="204.09" width="216.23" height="12.89" fill="#4552AF"/>
<rect x="930.84" y="204.09" width="21.50" height="12.89" fill="#4652AF"/>
<rect x="951.34" y="204.09" width="11.25" height="12.89" fill="#4653AF"/>
<rect x="961.59" y="204.09" width="11.25" height="12.89" fill="#4654B0"/>
<rect x="971.84" y="204.09" width="11.25" height="12.89" fill="#4655B0"/>
<rect x="982.09" y="204.09" width="11.25" height="12.89" fill="#4655B1"/>
<rect x="992.34" y="204.09" width="11.25" height="12.89" fill="#4756B2"/>
<rect x="1002.59" y="204.09" width="42.00" height="12.89" fill="#4757B2"/>
<rect x="1043.58" y="204.09" width="11.25" height="12.89" fill="#4656B1"/>
<rect x="1053.83" y="204.09" width="11.25" height="12.89" fill="#4654B0"/>
<rect x="1064.08" y="204.09" width="21.50" height="12.89" fill="#4757B2"/>
<rect x="1084.58" y="204.09" width="11.25" height="12.89" fill="#4656B1"/>
<rect x="1094.83" y="204.09" width="11.25" height="12.89" fill="#4652AF"/>
<rect x="1105.08" y="204.09" width="11.25" height="12.89" fill="#4550AD"/>
<rect x="1115.32" y="204.09" width="11.25" height="12.89" fill="#454EAC"/>
<rect x="1125.57" y="204.09" width="11.25" height="12.89" fill="#444DAC"/>
<rect x="1135.82" y="204.09" width="11.25" height="12.89" fill="#444CAB"/>
<rect x="1146.07" y="204.09" width="11.25" height="12.89" fill="#434AAA"/>
<rect x="1156.32" y="204.09" width="11.25" height="12.89" fill="#4349A9"/>
<rect x="1166.57" y="204.09" width="11.25" height="12.89" fill="#4349A8"/>
<rect x="1176.82" y="204.09" width="11.25" height="12.89" fill="#4247A7"/>
<rect x="1187.07" y="204.09" width="11.25" height="12.89" fill="#4246A7"/>
<rect x="1197.32" y="204.09" width="11.25" height="12.89" fill="#4245A6"/>
<rect x="1207.57" y="204.09" width="11.25" height="12.89" fill="#4245A5"/>
<rect x="1217.81" y="204.09" width="11.25" height="12.89" fill="#4144A5"/>
<rect x="1228.06" y="204.09" width="11.25" height="12.89" fill="#4143A4"/>
<rect x="1238.31" y="204.09" width="11.25" height="12.89" fill="#4142A3"/>
<rect x="1248.56" y="204.09" width="11.25" height="12.89" fill="#4040A2"/>
<rect x="1258.81" y="204.09" width="11.25" height="12.89" fill="#403FA1"/>
<rect x="1269.06" y="204.09" width="21.50" height="12.89" fill="#3F3DA0"/>
<rect x="1289.56" y="204.09" width="11.25" height="12.89" fill="#3F3CA0"/>
<rect x="1299.81" y="204.09" width="20.50" height="12.89" fill="#3F3C9F"/>
<rect x="336.40" y="215.97" width="11.25" height="12.89" fill="#3E3B9E"/>
<rect x="346.65" y="215.97" width="52.25" height="12.89" fill="#3E3B9F"/>
<rect x="397.89" y="215.97" width="21.50" height="12.89" fill="#3F3C9F"/>
<rect x="418.39" y="215.97" width="11.25" height="12.89" fill="#3F3CA0"/>
<rect x="428.64" y="215.97" width="31.75" height="12.89" fill="#3F3DA0"/>
<rect x="459.39" y="215.97" width="21.50" height="12.89" fill="#3F3EA1"/>
<rect x="479.89" y="215.97" width="11.25" height="12.89" fill="#403FA1"/>
<rect x="490.13" y="215.97" width="11.25" height="12.89" fill="#4040A2"/>
<rect x="500.38" y="215.97" width="11.25" height="12.89" fill="#4041A2"/>
<rect x="510.63" y="215.97" width="11.25" height="12.89" fill="#4041A3"/>
<rect x="520.88" y="215.97" width="11.25" height="12.89" fill="#4142A3"/>
<rect x="531.13" y="215.97" width="11.25" height="12.89" fill="#4143A4"/>
<rect x="541.38" y="215.97" width="11.25" height="12.89" fill="#4144A5"/>
<rect x="551.63" y="215.97" width="11.25" height="12.89" fill="#4245A6"/>
<rect x="561.88" y="215.97" width="11.25" height="12.89" fill="#4246A6"/>
<rect x="572.13" y="215.97" width="11.25" height="12.89" fill="#4247A7"/>
<rect x="582.38" y="215.97" width="31.75" height="12.89" fill="#4348A8"/>
<rect x="613.12" y="215.97" width="31.75" height="12.89" fill="#4349A9"/>
<rect x="643.87" y="215.97" width="31.75" height="12.89" fill="#434AA9"/>
<rect x="674.62" y="215.97" width="93.24" height="12.89" fill="#434AAA"/>
<rect x="766.86" y="215.97" width="21.50" height="12.89" fill="#444BAA"/>
<rect x="787.36" y="215.97" width="103.49" height="12.89" fill="#434AAA"/>
<rect x="889.85" y="215.97" width="52.25" height="12.89" fill="#434AA9"/>
<rect x="941.09" y="215.97" width="62.49" height="12.89" fill="#4349A9"/>
<rect x="1002.59" y="215.97" width="11.25" height="12.89" fill="#4349A8"/>
<rect x="1012.83" y="215.97" width="42.00" height="12.89" fill="#4348A8"/>
<rect x="1053.83" y="215.97" width="21.50" height="12.89" fill="#4247A7"/>
<rect x="1074.33" y="215.97" width="11.25" height="12.89" fill="#4246A6"/>
<rect x="1084.58" y="215.97" width="11.25" height="12.89" fill="#4245A6"/>
<rect x="1094.83" y="215.97" width="11.25" height="12.89" fill="#4245A5"/>
<rect x="1105.08" y="215.97" width="11.25" height="12.89" fill="#4144A5"/>
<rect x="1115.32" y="215.97" width="21.50" height="12.89" fill="#4143A4"/>
<rect x="1135.82" y="215.97" width="11.25" height="12.89" fill="#4142A4"/>
<rect x="1146.07" y="215.97" width="11.25" height="12.89" fill="#4142A3"/>
<rect x="1156.32" y="215.97" width="21.50" height="12.89" fill="#4041A3"/>
<rect x="1176.82" y="215.97" width="11.25" height="12.89" fill="#4041A2"/>
<rect x="1187.07" y="215.97" width="21.50" height="12.89" fill="#4040A2"/>
<rect x="1207.57" y="215.97" width="11.25" height="12.89" fill="#403FA2"/>
<rect x="1217.81" y="215.97" width="11.25" height="12.89" fill="#403FA1"/>
<rect x="1228.06" y="215.97" width="21.50" height="12.89" fill="#3F3EA1"/>
<rect x="1248.56" y="215.97" width="11.25" height="12.89" fill="#3F3EA0"/>
<rect x="1258.81" y="215.97" width="21.50" height="12.89" fill="#3F3DA0"/>
<rect x="1279.31" y="215.97" width="11.25" height="12.89" fill="#3F3CA0"/>
<rect x="1289.56" y="215.97" width="30.75" height="12.89" fill="#3F3C9F"/>
<rect x="336.40" y="227.86" width="11.25" height="12.89" fill="#3E3B9E"/>
<rect x="346.65" y="227.86" width="52.25" height="12.89" fill="#3E3B9F"/>
<rect x="397.89" y="227.86" width="31.75" height="12.89" fill="#3F3C9F"/>
<rect x="428.64" y="227.86" width="31.75" height="12.89" fill="#3F3DA0"/>
<rect x="459.39" y="227.86" width="11.25" height="12.89" fill="#3F3EA0"/>
<rect x="469.64" y="227.86" width="11.25" height="12.89" fill="#3F3EA1"/>
<rect x="479.89" y="227.86" width="21.50" height="12.89" fill="#403FA1"/>
<rect x="500.38" y="227.86" width="21.50" height="12.89" fill="#4040A2"/>
<rect x="520.88" y="227.86" width="21.50" height="12.89" fill="#4041A3"/>
<rect x="541.38" y="227.86" width="11.25" height="12.89" fill="#4142A3"/>
<rect x="551.63" y="227.86" width="21.50" height="12.89" fill="#4143A4"/>
<rect x="572.13" y="227.86" width="21.50" height="12.89" fill="#4144A5"/>
<rect x="592.62" y="227.86" width="11.25" height="12.89" fill="#4245A5"/>
<rect x="602.87" y="227.86" width="21.50" height="12.89" fill="#4245A6"/>
<rect x="623.37" y="227.86" width="31.75" height="12.89" fill="#4246A6"/>
<rect x="654.12" y="227.86" width="21.50" height="12.89" fill="#4246A7"/>
<rect x="674.62" y="227.86" width="185.48" height="12.89" fill="#4247A7"/>
<rect x="859.10" y="227.86" width="31.75" height="12.89" fill="#4246A7"/>
<rect x="889.85" y="227.86" width="52.25" height="12.89" fill="#4246A6"/>
<rect x="941.09" y="227.86" width="42.00" height="12.89" fill="#4245A6"/>
<rect x="982.09" y="227.86" width="21.50" height="12.89" fill="#4245A5"/>
<rect x="1002.59" y="227.86" width="42.00" height="12.89" fill="#4144A5"/>
<rect x="1043.58" y="227.86" width="11.25" height="12.89" fill="#4144A4"/>
<rect x="1053.83" y="227.86" width="31.75" height="12.89" fill="#4143A4"/>
<rect x="1084.58" y="227.86" width="11.25" height="12.89" fill="#4142A4"/>
<rect x="1094.83" y="227.86" width="21.50" height="12.89" fill="#4142A3"/>
<rect x="1115.32" y="227.86" width="21.50" height="12.89" fill="#4041A3"/>
<rect x="1135.82" y="227.86" width="11.25" height="12.89" fill="#4041A2"/>
<rect x="1146.07" y="227.86" width="31.75" height="12.89" fill="#4040A2"/>
<rect x="1176.82" y="227.86" width="11.25" height="12.89" fill="#403FA2"/>
<rect x="1187.07" y="227.86" width="21.50" height="12.89" fill="#403FA1"/>
<rect x="1207.57" y="227.86" width="21.50" height="12.89" fill="#3F3EA1"/>
<rect x="1228.06" y="227.86" width="11.25" height="12.89" fill="#3F3EA0"/>
<rect x="1238.31" y="227.86" width="31.75" height="12.89" fill="#3F3DA0"/>
<rect x="1269.06" y="227.86" width="11.25" height="12.89" fill="#3F3CA0"/>
<rect x="1279.31" y="227.86" width="31.75" height="12.89" fill="#3F3C9F"/>
<rect x="1310.06" y="227.86" width="10.25" height="12.89" fill="#3E3B9F"/>
<rect x="336.40" y="239.75" width="21.50" height="12.89" fill="#3E3B9E"/>
<rect x="356.90" y="239.75" width="42.00" height="12.89" fill="#3E3B9F"/>
<rect x="397.89" y="239.75" width="31.75" height="12.89" fill="#3F3C9F"/>
<rect x="428.64" y="239.75" width="11.25" height="12.89" fill="#3F3CA0"/>
<rect x="438.89" y="239.75" width="21.50" height="12.89" fill="#3F3DA0"/>
<rect x="459.39" y="239.75" width="11.25" height="12.89" fill="#3F3EA0"/>
<rect x="469.64" y="239.75" width="21.50" height="12.89" fill="#3F3EA1"/>
<rect x="490.13" y="239.75" width="11.25" height="12.89" fill="#403FA1"/>
<rect x="500.38" y="239.75" width="11.25" height="12.89" fill="#403FA2"/>
<rect x="510.63" y="239.75" width="11.25" height="12.89" fill="#4040A2"/>
<rect x="520.88" y="239.75" width="11.25" height="12.89" fill="#4041A2"/>
<rect x="531.13" y="239.75" width="11.25" height="12.89" fill="#4041A3"/>
<rect x="541.38" y="239.75" width="21.50" height="12.89" fill="#4142A3"/>
<rect x="561.88" y="239.75" width="21.50" height="12.89" fill="#4143A4"/>
<rect x="582.38" y="239.75" width="31.75" height="12.89" fill="#4144A5"/>
<rect x="613.12" y="239.75" width="11.25" height="12.89" fill="#4245A5"/>
<rect x="623.37" y="239.75" width="21.50" height="12.89" fill="#4245A6"/>
<rect x="643.87" y="239.75" width="72.74" height="12.89" fill="#4246A6"/>
<rect x="715.61" y="239.75" width="82.99" height="12.89" fill="#4246A7"/>
<rect x="797.61" y="239.75" width="72.74" height="12.89" fill="#4246A6"/>
<rect x="869.35" y="239.75" width="31.75" height="12.89" fill="#4245A6"/>
<rect x="900.10" y="239.75" width="21.50" height="12.89" fill="#4245A5"/>
<rect x="920.59" y="239.75" width="42.00" height="12.89" fill="#4144A5"/>
<rect x="961.59" y="239.75" width="62.49" height="12.89" fill="#4143A4"/>
<rect x="1023.08" y="239.75" width="11.25" height="12.89" fill="#4142A4"/>
<rect x="1033.33" y="239.75" width="42.00" height="12.89" fill="#4142A3"/>
<rect x="1074.33" y="239.75" width="31.75" height="12.89" fill="#4041A3"/>
<rect x="1105.08" y="239.75" width="11.25" height="12.89" fill="#4041A2"/>
<rect x="1115.32" y="239.75" width="31.75" height="12.89" fill="#4040A2"/>
<rect x="1146.07" y="239.75" width="11.25" height="12.89" fill="#403FA2"/>
<rect x="1156.32" y="239.75" width="31.75" height="12.89" fill="#403FA1"/>
<rect x="1187.07" y="239.75" width="31.75" height="12.89" fill="#3F3EA1"/>
<rect x="1217.81" y="239.75" width="11.25" height="12.89" fill="#3F3EA0"/>
<rect x="1228.06" y="239.75" width="31.75" height="12.89" fill="#3F3DA0"/>
<rect x="1258.81" y="239.75" width="11.25" height="12.89" fill="#3F3CA0"/>
<rect x="1269.06" y="239.75" width="42.00" height="12.89" fill="#3F3C9F"/>
<rect x="1310.06" y="239.75" width="10.25" height="12.89" fill="#3E3B9F"/>
<rect x="336.40" y="251.64" width="21.50" height="12.89" fill="#3E3B9E"/>
<rect x="356.90" y="251.64" width="42.00" height="12.89" fill="#3E3B9F"/>
<rect x="397.89" y="251.64" width="31.75" height="12.89" fill="#3F3C9F"/>
<rect x="428.64" y="251.64" width="11.25" height="12.89" fill="#3F3CA0"/>
<rect x="438.89" y="251.64" width="31.75" height="12.89" fill="#3F3DA0"/>
<rect x="469.64" y="251.64" width="21.50" height="12.89" fill="#3F3EA1"/>
<rect x="490.13" y="251.64" width="11.25" height="12.89" fill="#403FA1"/>
<rect x="500.38" y="251.64" width="11.25" height="12.89" fill="#403FA2"/>
<rect x="510.63" y="251.64" width="11.25" height="12.89" fill="#4040A2"/>
<rect x="520.88" y="251.64" width="11.25" height="12.89" fill="#4041A2"/>
<rect x="531.13" y="251.64" width="11.25" height="12.89" fill="#4041A3"/>
<rect x="541.38" y="251.64" width="11.25" height="12.89" fill="#4142A3"/>
<rect x="551.63" y="251.64" width="11.25" height="12.89" fill="#4142A4"/>
<rect x="561.88" y="251.64" width="21.50" height="12.89" fill="#4143A4"/>
<rect x="582.38" y="251.64" width="21.50" height="12.89" fill="#4144A5"/>
<rect x="602.87" y="251.64" width="11.25" height="12.89" fill="#4245A5"/>
<rect x="613.12" y="251.64" width="21.50" height="12.89" fill="#4245A6"/>
<rect x="633.62" y="251.64" width="31.75" height="12.89" fill="#4246A6"/>
<rect x="664.37" y="251.64" width="21.50" height="12.89" fill="#4246A7"/>
<rect x="684.87" y="251.64" width="123.99" height="12.89" fill="#4247A7"/>
<rect x="807.85" y="251.64" width="21.50" height="12.89" fill="#4246A7"/>
<rect x="828.35" y="251.64" width="42.00" height="12.89" fill="#4246A6"/>
<rect x="869.35" y="251.64" width="21.50" height="12.89" fill="#4245A6"/>
<rect x="889.85" y="251.64" width="11.25" height="12.89" fill="#4245A5"/>
<rect x="900.10" y="251.64" width="31.75" height="12.89" fill="#4144A5"/>
<rect x="930.84" y="251.64" width="42.00" height="12.89" fill="#4143A4"/>
<rect x="971.84" y="251.64" width="11.25" height="12.89" fill="#4142A4"/>
<rect x="982.09" y="251.64" width="31.75" height="12.89" fill="#4142A3"/>
<rect x="1012.83" y="251.64" width="42.00" height="12.89" fill="#4041A3"/>
<rect x="1053.83" y="251.64" width="21.50" height="12.89" fill="#4041A2"/>
<rect x="1074.33" y="251.64" width="52.25" height="12.89" fill="#4040A2"/>
<rect x="1125.57" y="251.64" width="11.25" height="12.89" fill="#403FA2"/>
<rect x="1135.82" y="251.64" width="31.75" height="12.89" fill="#403FA1"/>
<rect x="1166.57" y="251.64" width="31.75" height="12.89" fill="#3F3EA1"/>
<rect x="1197.32" y="251.64" width="11.25" height="12.89" fill="#3F3EA0"/>
<rect x="1207.57" y="251.64" width="52.25" height="12.89" fill="#3F3DA0"/>
<rect x="1258.81" y="251.64" width="11.25" height="12.89" fill="#3F3CA0"/>
<rect x="1269.06" y="251.64" width="31.75" height="12.89" fill="#3F3C9F"/>
<rect x="1299.81" y="251.64" width="20.50" height="12.89" fill="#3E3B9F"/>
<rect x="336.40" y="263.52" width="21.50" height="12.89" fill="#3E3B9E"/>
<rect x="356.90" y="263.52" width="42.00" height="12.89" fill="#3E3B9F"/>
<rect x="397.89" y="263.52" width="31.75" height="12.89" fill="#3F3C9F"/>
<rect x="428.64" y="263.52" width="11.25" height="12.89" fill="#3F3CA0"/>
<rect x="438.89" y="263.52" width="31.75" height="12.89" fill="#3F3DA0"/>
<rect x="469.64" y="263.52" width="11.25" height="12.89" fill="#3F3EA1"/>
<rect x="479.89" y="263.52" width="21.50" height="12.89" fill="#403FA1"/>
<rect x="500.38" y="263.52" width="11.25" height="12.89" fill="#4040A2"/>
<rect x="510.63" y="263.52" width="11.25" height="12.89" fill="#4041A3"/>
<rect x="520.88" y="263.52" width="11.25" height="12.89" fill="#4142A3"/>
<rect x="531.13" y="263.52" width="11.25" height="12.89" fill="#4143A4"/>
<rect x="541.38" y="263.52" width="11.25" height="12.89" fill="#4144A5"/>
<rect x="551.63" y="263.52" width="11.25" height="12.89" fill="#4245A6"/>
<rect x="561.88" y="263.52" width="11.25" height="12.89" fill="#4246A7"/>
<rect x="572.13" y="263.52" width="11.25" height="12.89" fill="#4348A8"/>
<rect x="582.38" y="263.52" width="11.25" height="12.89" fill="#4349A8"/>
<rect x="592.62" y="263.52" width="11.25" height="12.89" fill="#4349A9"/>
<rect x="602.87" y="263.52" width="11.25" height="12.89" fill="#434AA9"/>
<rect x="613.12" y="263.52" width="11.25" height="12.89" fill="#434AAA"/>
<rect x="623.37" y="263.52" width="42.00" height="12.89" fill="#444BAA"/>
<rect x="664.37" y="263.52" width="11.25" height="12.89" fill="#444BAB"/>
<rect x="674.62" y="263.52" width="134.24" height="12.89" fill="#444CAB"/>
<rect x="807.85" y="263.52" width="11.25" height="12.89" fill="#444BAB"/>
<rect x="818.10" y="263.52" width="42.00" height="12.89" fill="#444BAA"/>
<rect x="859.10" y="263.52" width="11.25" height="12.89" fill="#434AAA"/>
<rect x="869.35" y="263.52" width="11.25" height="12.89" fill="#434AA9"/>
<rect x="879.60" y="263.52" width="11.25" height="12.89" fill="#4349A8"/>
<rect x="889.85" y="263.52" width="11.25" height="12.89" fill="#4348A8"/>
<rect x="900.10" y="263.52" width="11.25" height="12.89" fill="#4247A7"/>
<rect x="910.34" y="263.52" width="11.25" height="12.89" fill="#4246A6"/>
<rect x="920.59" y="263.52" width="11.25" height="12.89" fill="#4245A6"/>
<rect x="930.84" y="263.52" width="11.25" height="12.89" fill="#4144A5"/>
<rect x="941.09" y="263.52" width="21.50" height="12.89" fill="#4143A4"/>
<rect x="961.59" y="263.52" width="11.25" height="12.89" fill="#4142A4"/>
<rect x="971.84" y="263.52" width="11.25" height="12.89" fill="#4142A3"/>
<rect x="982.09" y="263.52" width="31.75" height="12.89" fill="#4041A3"/>
<rect x="1012.83" y="263.52" width="11.25" height="12.89" fill="#4041A2"/>
<rect x="1023.08" y="263.52" width="62.49" height="12.89" fill="#4040A2"/>
<rect x="1084.58" y="263.52" width="21.50" height="12.89" fill="#403FA2"/>
<rect x="1105.08" y="263.52" width="42.00" height="12.89" fill="#403FA1"/>
<rect x="1146.07" y="263.52" width="42.00" height="12.89" fill="#3F3EA1"/>
<rect x="1187.07" y="263.52" width="11.25" height="12.89" fill="#3F3EA0"/>
<rect x="1197.32" y="263.52" width="52.25" height="12.89" fill="#3F3DA0"/>
<rect x="1248.56" y="263.52" width="11.25" height="12.89" fill="#3F3CA0"/>
<rect x="1258.81" y="263.52" width="42.00" height="12.89" fill="#3F3C9F"/>
<rect x="1299.81" y="263.52" width="20.50" height="12.89" fill="#3E3B9F"/>
<rect x="336.40" y="275.41" width="21.50" height="12.89" fill="#3E3B9E"/>
<rect x="356.90" y="275.41" width="42.00" height="12.89" fill="#3E3B9F"/>
<rect x="397.89" y="275.41" width="31.75" height="12.89" fill="#3F3C9F"/>
<rect x="428.64" y="275.41" width="11.25" height="12.89" fill="#3F3CA0"/>
<rect x="438.89" y="275.41" width="31.75" height="12.89" fill="#3F3DA0"/>
<rect x="469.64" y="275.41" width="11.25" height="12.89" fill="#3F3EA1"/>
<rect x="479.89" y="275.41" width="11.25" height="12.89" fill="#403FA1"/>
<rect x="490.13" y="275.41" width="11.25" height="12.89" fill="#4040A2"/>
<rect x="500.38" y="275.41" width="11.25" height="12.89" fill="#4142A3"/>
<rect x="510.63" y="275.41" width="11.25" height="12.89" fill="#4143A4"/>
<rect x="520.88" y="275.41" width="11.25" height="12.89" fill="#4245A6"/>
<rect x="531.13" y="275.41" width="11.25" height="12.89" fill="#4247A7"/>
<rect x="541.38" y="275.41" width="11.25" height="12.89" fill="#434AAA"/>
<rect x="551.63" y="275.41" width="11.25" height="12.89" fill="#444DAC"/>
<rect x="561.88" y="275.41" width="11.25" height="12.89" fill="#4550AE"/>
<rect x="572.13" y="275.41" width="11.25" height="12.89" fill="#4653AF"/>
<rect x="582.38" y="275.41" width="11.25" height="12.89" fill="#4655B1"/>
<rect x="592.62" y="275.41" width="11.25" height="12.89" fill="#4756B2"/>
<rect x="602.87" y="275.41" width="11.25" height="12.89" fill="#4757B2"/>
<rect x="613.12" y="275.41" width="42.00" height="12.89" fill="#4758B3"/>
<rect x="654.12" y="275.41" width="11.25" height="12.89" fill="#4759B3"/>
<rect x="664.37" y="275.41" width="144.49" height="12.89" fill="#4759B4"/>
<rect x="807.85" y="275.41" width="11.25" height="12.89" fill="#4759B3"/>
<rect x="818.10" y="275.41" width="42.00" height="12.89" fill="#4758B3"/>
<rect x="859.10" y="275.41" width="11.25" height="12.89" fill="#4757B2"/>
<rect x="869.35" y="275.41" width="11.25" height="12.89" fill="#4656B1"/>
<rect x="879.60" y="275.41" width="11.25" height="12.89" fill="#4654B0"/>
<rect x="889.85" y="275.41" width="11.25" height="12.89" fill="#4551AE"/>
<rect x="900.10" y="275.41" width="11.25" height="12.89" fill="#454FAD"/>
<rect x="910.34" y="275.41" width="11.25" height="12.89" fill="#444CAB"/>
<rect x="920.59" y="275.41" width="11.25" height="12.89" fill="#434AA9"/>
<rect x="930.84" y="275.41" width="11.25" height="12.89" fill="#4348A8"/>
<rect x="941.09" y="275.41" width="11.25" height="12.89" fill="#4246A6"/>
<rect x="951.34" y="275.41" width="11.25" height="12.89" fill="#4144A5"/>
<rect x="961.59" y="275.41" width="11.25" height="12.89" fill="#4143A4"/>
<rect x="971.84" y="275.41" width="11.25" height="12.89" fill="#4142A3"/>
<rect x="982.09" y="275.41" width="11.25" height="12.89" fill="#4041A3"/>
<rect x="992.34" y="275.41" width="11.25" height="12.89" fill="#4041A2"/>
<rect x="1002.59" y="275.41" width="42.00" height="12.89" fill="#4040A2"/>
<rect x="1043.58" y="275.41" width="21.50" height="12.89" fill="#403FA2"/>
<rect x="1064.08" y="275.41" width="52.25" height="12.89" fill="#403FA1"/>
<rect x="1115.32" y="275.41" width="52.25" height="12.89" fill="#3F3EA1"/>
<rect x="1166.57" y="275.41" width="11.25" height="12.89" fill="#3F3EA0"/>
<rect x="1176.82" y="275.41" width="62.49" height="12.89" fill="#3F3DA0"/>
<rect x="1238.31" y="275.41" width="11.25" height="12.89" fill="#3F3CA0"/>
<rect x="1248.56" y="275.41" width="42.00" height="12.89" fill="#3F3C9F"/>
<rect x="1289.56" y="275.41" width="30.75" height="12.89" fill="#3E3B9F"/>
<rect x="336.40" y="299.19" width="11.25" height="12.89" fill="#3E3A9E"/>
<rect x="346.65" y="299.19" width="21.50" height="12.89" fill="#3E3B9E"/>
<rect x="367.15" y="299.19" width="42.00" height="12.89" fill="#3E3B9F"/>
<rect x="408.14" y="299.19" width="31.75" height="12.89" fill="#3F3C9F"/>
<rect x="438.89" y="299.19" width="11.25" height="12.89" fill="#3F3CA0"/>
<rect x="449.14" y="299.19" width="21.50" height="12.89" fill="#3F3DA0"/>
<rect x="469.64" y="299.19" width="11.25" height="12.89" fill="#3F3EA0"/>
<rect x="479.89" y="299.19" width="11.25" height="12.89" fill="#3F3EA1"/>
<rect x="490.13" y="299.19" width="11.25" height="12.89" fill="#403FA1"/>
<rect x="500.38" y="299.19" width="11.25" height="12.89" fill="#4040A2"/>
<rect x="510.63" y="299.19" width="11.25" height="12.89" fill="#4041A3"/>
<rect x="520.88" y="299.19" width="11.25" height="12.89" fill="#4142A4"/>
<rect x="531.13" y="299.19" width="11.25" height="12.89" fill="#4144A5"/>
<rect x="541.38" y="299.19" width="11.25" height="12.89" fill="#4246A6"/>
<rect x="551.63" y="299.19" width="11.25" height="12.89" fill="#4247A7"/>
<rect x="561.88" y="299.19" width="11.25" height="12.89" fill="#434AA9"/>
<rect x="572.13" y="299.19" width="11.25" height="12.89" fill="#444BAB"/>
<rect x="582.38" y="299.19" width="11.25" height="12.89" fill="#444DAB"/>
<rect x="592.62" y="299.19" width="11.25" height="12.89" fill="#444EAC"/>
<rect x="602.87" y="299.19" width="11.25" height="12.89" fill="#454EAC"/>
<rect x="613.12" y="299.19" width="52.25" height="12.89" fill="#454FAD"/>
<rect x="664.37" y="299.19" width="154.74" height="12.89" fill="#4550AD"/>
<rect x="818.10" y="299.19" width="42.00" height="12.89" fill="#454FAD"/>
<rect x="859.10" y="299.19" width="11.25" height="12.89" fill="#444EAC"/>
<rect x="869.35" y="299.19" width="11.25" height="12.89" fill="#444DAC"/>
<rect x="879.60" y="299.19" width="11.25" height="12.89" fill="#444CAB"/>
<rect x="889.85" y="299.19" width="11.25" height="12.89" fill="#434AAA"/>
<rect x="900.10" y="299.19" width="11.25" height="12.89" fill="#4349A8"/>
<rect x="910.34" y="299.19" width="11.25" height="12.89" fill="#4247A7"/>
<rect x="920.59" y="299.19" width="11.25" height="12.89" fill="#4245A6"/>
<rect x="930.84" y="299.19" width="11.25" height="12.89" fill="#4144A5"/>
<rect x="941.09" y="299.19" width="11.25" height="12.89" fill="#4143A4"/>
<rect x="951.34" y="299.19" width="11.25" height="12.89" fill="#4142A3"/>
<rect x="961.59" y="299.19" width="11.25" height="12.89" fill="#4041A3"/>
<rect x="971.84" y="299.19" width="21.50" height="12.89" fill="#4040A2"/>
<rect x="992.34" y="299.19" width="11.25" height="12.89" fill="#403FA2"/>
<rect x="1002.59" y="299.19" width="31.75" height="12.89" fill="#403FA1"/>
<rect x="1033.33" y="299.19" width="72.74" height="12.89" fill="#3F3EA1"/>
<rect x="1105.08" y="299.19" width="21.50" height="12.89" fill="#3F3EA0"/>
<rect x="1125.57" y="299.19" width="82.99" height="12.89" fill="#3F3DA0"/>
<rect x="1207.57" y="299.19" width="21.50" height="12.89" fill="#3F3CA0"/>
<rect x="1228.06" y="299.19" width="42.00" height="12.89" fill="#3F3C9F"/>
<rect x="1269.06" y="299.19" width="51.25" height="12.89" fill="#3E3B9F"/>
<rect x="336.40" y="311.07" width="11.25" height="12.89" fill="#3E3A9E"/>
<rect x="346.65" y="311.07" width="31.75" height="12.89" fill="#3E3B9E"/>
<rect x="377.40" y="311.07" width="42.00" height="12.89" fill="#3E3B9F"/>
<rect x="418.39" y="311.07" width="31.75" height="12.89" fill="#3F3C9F"/>
<rect x="449.14" y="311.07" width="11.25" height="12.89" fill="#3F3CA0"/>
<rect x="459.39" y="311.07" width="31.75" height="12.89" fill="#3F3DA0"/>
<rect x="490.13" y="311.07" width="21.50" height="12.89" fill="#3F3EA1"/>
<rect x="510.63" y="311.07" width="11.25" height="12.89" fill="#403FA1"/>
<rect x="520.88" y="311.07" width="11.25" height="12.89" fill="#4040A2"/>
<rect x="531.13" y="311.07" width="11.25" height="12.89" fill="#4041A2"/>
<rect x="541.38" y="311.07" width="11.25" height="12.89" fill="#4041A3"/>
<rect x="551.63" y="311.07" width="11.25" height="12.89" fill="#4142A4"/>
<rect x="561.88" y="311.07" width="11.25" height="12.89" fill="#4143A4"/>
<rect x="572.13" y="311.07" width="11.25" height="12.89" fill="#4144A5"/>
<rect x="582.38" y="311.07" width="11.25" height="12.89" fill="#4245A5"/>
<rect x="592.62" y="311.07" width="11.25" height="12.89" fill="#4245A6"/>
<rect x="602.87" y="311.07" width="21.50" height="12.89" fill="#4246A6"/>
<rect x="623.37" y="311.07" width="11.25" height="12.89" fill="#4246A7"/>
<rect x="633.62" y="311.07" width="205.98" height="12.89" fill="#4247A7"/>
<rect x="838.60" y="311.07" width="11.25" height="12.89" fill="#4246A7"/>
<rect x="848.85" y="311.07" width="21.50" height="12.89" fill="#4246A6"/>
<rect x="869.35" y="311.07" width="11.25" height="12.89" fill="#4245A6"/>
<rect x="879.60" y="311.07" width="11.25" height="12.89" fill="#4245A5"/>
<rect x="889.85" y="311.07" width="11.25" height="12.89" fill="#4144A5"/>
<rect x="900.10" y="311.07" width="11.25" height="12.89" fill="#4143A4"/>
<rect x="910.34" y="311.07" width="11.25" height="12.89" fill="#4142A4"/>
<rect x="920.59" y="311.07" width="11.25" height="12.89" fill="#4142A3"/>
<rect x="930.84" y="311.07" width="11.25" height="12.89" fill="#4041A3"/>
<rect x="941.09" y="311.07" width="11.25" height="12.89" fill="#4041A2"/>
<rect x="951.34" y="311.07" width="21.50" height="12.89" fill="#4040A2"/>
<rect x="971.84" y="311.07" width="31.75" height="12.89" fill="#403FA1"/>
<rect x="1002.59" y="311.07" width="52.25" height="12.89" fill="#3F3EA1"/>
<rect x="1053.83" y="311.07" width="21.50" height="12.89" fill="#3F3EA0"/>
<rect x="1074.33" y="311.07" width="103.49" height="12.89" fill="#3F3DA0"/>
<rect x="1176.82" y="311.07" width="21.50" height="12.89" fill="#3F3CA0"/>
<rect x="1197.32" y="311.07" width="62.49" height="12.89" fill="#3F3C9F"/>
<rect x="1258.81" y="311.07" width="61.49" height="12.89" fill="#3E3B9F"/>
<rect x="336.40" y="322.96" width="21.50" height="12.89" fill="#3E3A9E"/>
<rect x="356.90" y="322.96" width="31.75" height="12.89" fill="#3E3B9E"/>
<rect x="387.64" y="322.96" width="52.25" height="12.89" fill="#3E3B9F"/>
<rect x="438.89" y="322.96" width="31.75" height="12.89" fill="#3F3C9F"/>
<rect x="469.64" y="322.96" width="11.25" height="12.89" fill="#3F3CA0"/>
<rect x="479.89" y="322.96" width="31.75" height="12.89" fill="#3F3DA0"/>
<rect x="510.63" y="322.96" width="21.50" height="12.89" fill="#3F3EA1"/>
<rect x="531.13" y="322.96" width="21.50" height="12.89" fill="#403FA1"/>
<rect x="551.63" y="322.96" width="11.25" height="12.89" fill="#403FA2"/>
<rect x="561.88" y="322.96" width="21.50" height="12.89" fill="#4040A2"/>
<rect x="582.38" y="322.96" width="11.25" height="12.89" fill="#4041A2"/>
<rect x="592.62" y="322.96" width="31.75" height="12.89" fill="#4041A3"/>
<rect x="623.37" y="322.96" width="42.00" height="12.89" fill="#4142A3"/>
<rect x="664.37" y="322.96" width="52.25" height="12.89" fill="#4142A4"/>
<rect x="715.61" y="322.96" width="52.25" height="12.89" fill="#4143A4"/>
<rect x="766.86" y="322.96" width="42.00" height="12.89" fill="#4142A4"/>
<rect x="807.85" y="322.96" width="52.25" height="12.89" fill="#4142A3"/>
<rect x="859.10" y="322.96" width="31.75" height="12.89" fill="#4041A3"/>
<rect x="889.85" y="322.96" width="11.25" height="12.89" fill="#4041A2"/>
<rect x="900.10" y="322.96" width="31.75" height="12.89" fill="#4040A2"/>
<rect x="930.84" y="322.96" width="31.75" height="12.89" fill="#403FA1"/>
<rect x="961.59" y="322.96" width="42.00" height="12.89" fill="#3F3EA1"/>
<rect x="1002.59" y="322.96" width="11.25" height="12.89" fill="#3F3EA0"/>
<rect x="1012.83" y="322.96" width="123.99" height="12.89" fill="#3F3DA0"/>
<rect x="1135.82" y="322.96" width="31.75" height="12.89" fill="#3F3CA0"/>
<rect x="1166.57" y="322.96" width="72.74" height="12.89" fill="#3F3C9F"/>
<rect x="1238.31" y="322.96" width="72.74" height="12.89" fill="#3E3B9F"/>
<rect x="1310.06" y="322.96" width="10.25" height="12.89" fill="#3E3B9E"/>
<rect x="336.40" y="334.85" width="31.75" height="12.89" fill="#3E3A9E"/>
<rect x="367.15" y="334.85" width="31.75" height="12.89" fill="#3E3B9E"/>
<rect x="397.89" y="334.85" width="52.25" height="12.89" fill="#3E3B9F"/>
<rect x="449.14" y="334.85" width="42.00" height="12.89" fill="#3F3C9F"/>
<rect x="490.13" y="334.85" width="11.25" height="12.89" fill="#3F3CA0"/>
<rect x="500.38" y="334.85" width="42.00" height="12.89" fill="#3F3DA0"/>
<rect x="541.38" y="334.85" width="11.25" height="12.89" fill="#3F3EA0"/>
<rect x="551.63" y="334.85" width="31.75" height="12.89" fill="#3F3EA1"/>
<rect x="582.38" y="334.85" width="31.75" height="12.89" fill="#403FA1"/>
<rect x="613.12" y="334.85" width="21.50" height="12.89" fill="#403FA2"/>
<rect x="633.62" y="334.85" width="216.23" height="12.89" fill="#4040A2"/>
<rect x="848.85" y="334.85" width="21.50" height="12.89" fill="#403FA2"/>
<rect x="869.35" y="334.85" width="42.00" height="12.89" fill="#403FA1"/>
<rect x="910.34" y="334.85" width="31.75" height="12.89" fill="#3F3EA1"/>
<rect x="941.09" y="334.85" width="21.50" height="12.89" fill="#3F3EA0"/>
<rect x="961.59" y="334.85" width="93.24" height="12.89" fill="#3F3DA0"/>
<rect x="1053.83" y="334.85" width="42.00" height="12.89" fill="#3F3CA0"/>
<rect x="1094.83" y="334.85" width="113.74" height="12.89" fill="#3F3C9F"/>
<rect x="1207.57" y="334.85" width="82.99" height="12.89" fill="#3E3B9F"/>
<rect x="1289.56" y="334.85" width="30.75" height="12.89" fill="#3E3B9E"/>
<rect x="336.40" y="346.74" width="52.25" height="12.89" fill="#3E3A9E"/>
<rect x="387.64" y="346.74" width="31.75" height="12.89" fill="#3E3B9E"/>
<rect x="418.39" y="346.74" width="62.49" height="12.89" fill="#3E3B9F"/>
<rect x="479.89" y="346.74" width="42.00" height="12.89" fill="#3F3C9F"/>
<rect x="520.88" y="346.74" width="21.50" height="12.89" fill="#3F3CA0"/>
<rect x="541.38" y="346.74" width="62.49" height="12.89" fill="#3F3DA0"/>
<rect x="602.87" y="346.74" width="21.50" height="12.89" fill="#3F3EA0"/>
<rect x="623.37" y="346.74" width="236.73" height="12.89" fill="#3F3EA1"/>
<rect x="859.10" y="346.74" width="21.50" height="12.89" fill="#3F3EA0"/>
<rect x="879.60" y="346.74" width="93.24" height="12.89" fill="#3F3DA0"/>
<rect x="971.84" y="346.74" width="31.75" height="12.89" fill="#3F3CA0"/>
<rect x="1002.59" y="346.74" width="144.49" height="12.89" fill="#3F3C9F"/>
<rect x="1146.07" y="346.74" width="113.74" height="12.89" fill="#3E3B9F"/>
<rect x="1258.81" y="346.74" width="42.00" height="12.89" fill="#3E3B9E"/>
<rect x="1299.81" y="346.74" width="20.50" height="12.89" fill="#3E3A9E"/>
<rect x="336.40" y="358.62" width="72.74" height="12.89" fill="#3E3A9E"/>
<rect x="408.14" y="358.62" width="42.00" height="12.89" fill="#3E3B9E"/>
<rect x="449.14" y="358.62" width="72.74" height="12.89" fill="#3E3B9F"/>
<rect x="520.88" y="358.62" width="72.74" height="12.89" fill="#3F3C9F"/>
<rect x="592.62" y="358.62" width="21.50" height="12.89" fill="#3F3CA0"/>
<rect x="613.12" y="358.62" width="257.23" height="12.89" fill="#3F3DA0"/>
<rect x="869.35" y="358.62" width="31.75" height="12.89" fill="#3F3CA0"/>
<rect x="900.10" y="358.62" width="123.99" height="12.89" fill="#3F3C9F"/>
<rect x="1023.08" y="358.62" width="195.73" height="12.89" fill="#3E3B9F"/>
<rect x="1217.81" y="358.62" width="52.25" height="12.89" fill="#3E3B9E"/>
<rect x="1269.06" y="358.62" width="51.25" height="12.89" fill="#3E3A9E"/>
<rect x="336.40" y="370.51" width="113.74" height="11.89" fill="#3E3A9E"/>
<rect x="449.14" y="370.51" width="42.00" height="11.89" fill="#3E3B9E"/>
<rect x="490.13" y="370.51" width="103.49" height="11.89" fill="#3E3B9F"/>
<rect x="592.62" y="370.51" width="308.47" height="11.89" fill="#3F3C9F"/>
<rect x="900.10" y="370.51" width="236.73" height="11.89" fill="#3E3B9F"/>
<rect x="1135.82" y="370.51" width="82.99" height="11.89" fill="#3E3B9E"/>
<rect x="1217.81" y="370.51" width="102.49" height="11.89" fill="#3E3A9E"/>
<rect x="336.40" y="96.80" width="31.75" height="12.20" fill="#3E3B9E"/>
<rect x="367.15" y="96.80" width="52.25" height="12.20" fill="#3E3B9F"/>
<rect x="418.39" y="96.80" width="42.00" height="12.20" fill="#3F3C9F"/>
<rect x="459.39" y="96.80" width="11.25" height="12.20" fill="#3F3CA0"/>
<rect x="469.64" y="96.80" width="62.49" height="12.20" fill="#3F3DA0"/>
<rect x="531.13" y="96.80" width="11.25" height="12.20" fill="#3F3EA0"/>
<rect x="541.38" y="96.80" width="52.25" height="12.20" fill="#3F3EA1"/>
<rect x="592.62" y="96.80" width="42.00" height="12.20" fill="#403FA1"/>
<rect x="633.62" y="96.80" width="11.25" height="12.20" fill="#403FA2"/>
<rect x="643.87" y="96.80" width="31.75" height="12.20" fill="#4040A2"/>
<rect x="674.62" y="96.80" width="11.25" height="12.20" fill="#4041A2"/>
<rect x="684.87" y="96.80" width="11.25" height="12.20" fill="#4041A3"/>
<rect x="695.12" y="96.80" width="11.25" height="12.20" fill="#4142A3"/>
<rect x="705.36" y="96.80" width="11.25" height="12.20" fill="#4143A4"/>
<rect x="715.61" y="96.80" width="11.25" height="12.20" fill="#4348A8"/>
<rect x="725.86" y="96.80" width="11.25" height="12.20" fill="#444CAB"/>
<rect x="736.11" y="96.80" width="11.25" height="12.20" fill="#4550AE"/>
<rect x="746.36" y="96.80" width="11.25" height="12.20" fill="#4756B2"/>
<rect x="756.61" y="96.80" width="11.25" height="12.20" fill="#4860B9"/>
<rect x="766.86" y="96.80" width="11.25" height="12.20" fill="#4A78C9"/>
<rect x="777.11" y="96.80" width="11.25" height="12.20" fill="#4E9FD6"/>
<rect x="787.36" y="96.80" width="11.25" height="12.20" fill="#4CBFA8"/>
<rect x="797.61" y="96.80" width="11.25" height="12.20" fill="#66C56E"/>
<rect x="807.85" y="96.80" width="11.25" height="12.20" fill="#86C448"/>
<rect x="818.10" y="96.80" width="11.25" height="12.20" fill="#A3B93A"/>
<rect x="828.35" y="96.80" width="11.25" height="12.20" fill="#6CC766"/>
<rect x="838.60" y="96.80" width="11.25" height="12.20" fill="#6AC766"/>
<rect x="848.85" y="96.80" width="11.25" height="12.20" fill="#68C66A"/>
<rect x="859.10" y="96.80" width="11.25" height="12.20" fill="#86C648"/>
<rect x="869.35" y="96.80" width="11.25" height="12.20" fill="#62C574"/>
<rect x="879.60" y="96.80" width="11.25" height="12.20" fill="#4EC0A6"/>
<rect x="889.85" y="96.80" width="11.25" height="12.20" fill="#4AB0C2"/>
<rect x="900.10" y="96.80" width="11.25" height="12.20" fill="#4C9ED6"/>
<rect x="910.34" y="96.80" width="11.25" height="12.20" fill="#4C8ED8"/>
<rect x="920.59" y="96.80" width="11.25" height="12.20" fill="#4B81CE"/>
<rect x="930.84" y="96.80" width="11.25" height="12.20" fill="#4A79C9"/>
<rect x="941.09" y="96.80" width="11.25" height="12.20" fill="#4A75C7"/>
<rect x="951.34" y="96.80" width="11.25" height="12.20" fill="#4A73C6"/>
<rect x="961.59" y="96.80" width="11.25" height="12.20" fill="#4A71C4"/>
<rect x="971.84" y="96.80" width="11.25" height="12.20" fill="#496EC2"/>
<rect x="982.09" y="96.80" width="11.25" height="12.20" fill="#4867BE"/>
<rect x="992.34" y="96.80" width="11.25" height="12.20" fill="#4861BA"/>
<rect x="1002.59" y="96.80" width="11.25" height="12.20" fill="#485BB5"/>
<rect x="1012.83" y="96.80" width="11.25" height="12.20" fill="#4656B1"/>
<rect x="1023.08" y="96.80" width="11.25" height="12.20" fill="#4551AE"/>
<rect x="1033.33" y="96.80" width="11.25" height="12.20" fill="#444DAC"/>
<rect x="1043.58" y="96.80" width="11.25" height="12.20" fill="#4348A8"/>
<rect x="1053.83" y="96.80" width="11.25" height="12.20" fill="#4245A5"/>
<rect x="1064.08" y="96.80" width="11.25" height="12.20" fill="#4142A3"/>
<rect x="1074.33" y="96.80" width="21.50" height="12.20" fill="#4040A2"/>
<rect x="1094.83" y="96.80" width="11.25" height="12.20" fill="#403FA2"/>
<rect x="1105.08" y="96.80" width="31.75" height="12.20" fill="#403FA1"/>
<rect x="1135.82" y="96.80" width="31.75" height="12.20" fill="#3F3EA1"/>
<rect x="1166.57" y="96.80" width="11.25" height="12.20" fill="#3F3EA0"/>
<rect x="1176.82" y="96.80" width="62.49" height="12.20" fill="#3F3DA0"/>
<rect x="1238.31" y="96.80" width="11.25" height="12.20" fill="#3F3CA0"/>
<rect x="1248.56" y="96.80" width="42.00" height="12.20" fill="#3F3C9F"/>
<rect x="1289.56" y="96.80" width="30.75" height="12.20" fill="#3E3B9F"/>
<rect x="336.40" y="191.80" width="21.50" height="12.50" fill="#3E3B9E"/>
<rect x="356.90" y="191.80" width="42.00" height="12.50" fill="#3E3B9F"/>
<rect x="397.89" y="191.80" width="31.75" height="12.50" fill="#3F3C9F"/>
<rect x="428.64" y="191.80" width="11.25" height="12.50" fill="#3F3CA0"/>
<rect x="438.89" y="191.80" width="31.75" height="12.50" fill="#3F3DA0"/>
<rect x="469.64" y="191.80" width="21.50" height="12.50" fill="#3F3EA1"/>
<rect x="490.13" y="191.80" width="11.25" height="12.50" fill="#403FA1"/>
<rect x="500.38" y="191.80" width="11.25" height="12.50" fill="#4041A3"/>
<rect x="510.63" y="191.80" width="11.25" height="12.50" fill="#4143A4"/>
<rect x="520.88" y="191.80" width="11.25" height="12.50" fill="#4246A6"/>
<rect x="531.13" y="191.80" width="11.25" height="12.50" fill="#434AA9"/>
<rect x="541.38" y="191.80" width="11.25" height="12.50" fill="#444DAC"/>
<rect x="551.63" y="191.80" width="11.25" height="12.50" fill="#4653AF"/>
<rect x="561.88" y="191.80" width="11.25" height="12.50" fill="#485FB8"/>
<rect x="572.13" y="191.80" width="11.25" height="12.50" fill="#4A7CCB"/>
<rect x="582.38" y="191.80" width="11.25" height="12.50" fill="#4AB5BD"/>
<rect x="592.62" y="191.80" width="11.25" height="12.50" fill="#9DBE38"/>
<rect x="602.87" y="191.80" width="11.25" height="12.50" fill="#E6C933"/>
<rect x="613.12" y="191.80" width="11.25" height="12.50" fill="#F0A83A"/>
<rect x="623.37" y="191.80" width="11.25" height="12.50" fill="#8BC13F"/>
<rect x="633.62" y="191.80" width="11.25" height="12.50" fill="#5EC57A"/>
<rect x="643.87" y="191.80" width="11.25" height="12.50" fill="#56C28A"/>
<rect x="654.12" y="191.80" width="11.25" height="12.50" fill="#54C18B"/>
<rect x="664.37" y="191.80" width="11.25" height="12.50" fill="#55C188"/>
<rect x="674.62" y="191.80" width="11.25" height="12.50" fill="#62C573"/>
<rect x="684.87" y="191.80" width="11.25" height="12.50" fill="#86C345"/>
<rect x="695.12" y="191.80" width="11.25" height="12.50" fill="#D9AC36"/>
<rect x="705.36" y="191.80" width="11.25" height="12.50" fill="#E6C733"/>
<rect x="715.61" y="191.80" width="11.25" height="12.50" fill="#F0A83A"/>
<rect x="725.86" y="191.80" width="11.25" height="12.50" fill="#E9C432"/>
<rect x="736.11" y="191.80" width="11.25" height="12.50" fill="#ECBF32"/>
<rect x="746.36" y="191.80" width="11.25" height="12.50" fill="#E0EA3A"/>
<rect x="756.61" y="191.80" width="11.25" height="12.50" fill="#E4D332"/>
<rect x="766.86" y="191.80" width="11.25" height="12.50" fill="#EFBE32"/>
<rect x="777.11" y="191.80" width="21.50" height="12.50" fill="#F2A838"/>
<rect x="797.61" y="191.80" width="11.25" height="12.50" fill="#F0AE38"/>
<rect x="807.85" y="191.80" width="11.25" height="12.50" fill="#EAC233"/>
<rect x="818.10" y="191.80" width="11.25" height="12.50" fill="#E1DA33"/>
<rect x="828.35" y="191.80" width="11.25" height="12.50" fill="#E2E235"/>
<rect x="838.60" y="191.80" width="11.25" height="12.50" fill="#E6D232"/>
<rect x="848.85" y="191.80" width="11.25" height="12.50" fill="#F2A838"/>
<rect x="859.10" y="191.80" width="11.25" height="12.50" fill="#A9B83A"/>
<rect x="869.35" y="191.80" width="11.25" height="12.50" fill="#66C56E"/>
<rect x="879.60" y="191.80" width="11.25" height="12.50" fill="#52BF9D"/>
<rect x="889.85" y="191.80" width="11.25" height="12.50" fill="#4CB0C2"/>
<rect x="900.10" y="191.80" width="11.25" height="12.50" fill="#4CA8CE"/>
<rect x="910.34" y="191.80" width="11.25" height="12.50" fill="#4B98DA"/>
<rect x="920.59" y="191.80" width="11.25" height="12.50" fill="#4C8FD6"/>
<rect x="930.84" y="191.80" width="11.25" height="12.50" fill="#4C8AD2"/>
<rect x="941.09" y="191.80" width="11.25" height="12.50" fill="#4C86CF"/>
<rect x="951.34" y="191.80" width="11.25" height="12.50" fill="#4C88D1"/>
<rect x="961.59" y="191.80" width="11.25" height="12.50" fill="#4C8CD4"/>
<rect x="971.84" y="191.80" width="11.25" height="12.50" fill="#4E96DB"/>
<rect x="982.09" y="191.80" width="11.25" height="12.50" fill="#4CA4CF"/>
<rect x="992.34" y="191.80" width="11.25" height="12.50" fill="#4AB4BE"/>
<rect x="1002.59" y="191.80" width="11.25" height="12.50" fill="#52C295"/>
<rect x="1012.83" y="191.80" width="11.25" height="12.50" fill="#6CC862"/>
<rect x="1023.08" y="191.80" width="11.25" height="12.50" fill="#72CA5C"/>
<rect x="1033.33" y="191.80" width="11.25" height="12.50" fill="#52C298"/>
<rect x="1043.58" y="191.80" width="11.25" height="12.50" fill="#4AA5CC"/>
<rect x="1053.83" y="191.80" width="11.25" height="12.50" fill="#4C82CE"/>
<rect x="1064.08" y="191.80" width="11.25" height="12.50" fill="#496CC1"/>
<rect x="1074.33" y="191.80" width="11.25" height="12.50" fill="#4861BA"/>
<rect x="1084.58" y="191.80" width="11.25" height="12.50" fill="#485BB5"/>
<rect x="1094.83" y="191.80" width="11.25" height="12.50" fill="#4757B2"/>
<rect x="1105.08" y="191.80" width="11.25" height="12.50" fill="#4653B0"/>
<rect x="1115.32" y="191.80" width="11.25" height="12.50" fill="#4552AF"/>
<rect x="1125.57" y="191.80" width="11.25" height="12.50" fill="#4550AE"/>
<rect x="1135.82" y="191.80" width="11.25" height="12.50" fill="#454EAD"/>
<rect x="1146.07" y="191.80" width="11.25" height="12.50" fill="#444DAC"/>
<rect x="1156.32" y="191.80" width="11.25" height="12.50" fill="#444CAB"/>
<rect x="1166.57" y="191.80" width="11.25" height="12.50" fill="#444BAA"/>
<rect x="1176.82" y="191.80" width="11.25" height="12.50" fill="#434AA9"/>
<rect x="1187.07" y="191.80" width="21.50" height="12.50" fill="#4348A8"/>
<rect x="1207.57" y="191.80" width="11.25" height="12.50" fill="#4247A7"/>
<rect x="1217.81" y="191.80" width="11.25" height="12.50" fill="#4246A6"/>
<rect x="1228.06" y="191.80" width="11.25" height="12.50" fill="#4245A5"/>
<rect x="1238.31" y="191.80" width="11.25" height="12.50" fill="#4143A4"/>
<rect x="1248.56" y="191.80" width="11.25" height="12.50" fill="#4041A3"/>
<rect x="1258.81" y="191.80" width="11.25" height="12.50" fill="#403FA2"/>
<rect x="1269.06" y="191.80" width="11.25" height="12.50" fill="#3F3DA0"/>
<rect x="1279.31" y="191.80" width="31.75" height="12.50" fill="#3F3C9F"/>
<rect x="1310.06" y="191.80" width="10.25" height="12.50" fill="#3E3B9F"/>
<rect x="336.40" y="287.60" width="31.75" height="12.40" fill="#3E3B9E"/>
<rect x="367.15" y="287.60" width="42.00" height="12.40" fill="#3E3B9F"/>
<rect x="408.14" y="287.60" width="42.00" height="12.40" fill="#3F3C9F"/>
<rect x="449.14" y="287.60" width="31.75" height="12.40" fill="#3F3DA0"/>
<rect x="479.89" y="287.60" width="11.25" height="12.40" fill="#3F3EA0"/>
<rect x="490.13" y="287.60" width="11.25" height="12.40" fill="#3F3EA1"/>
<rect x="500.38" y="287.60" width="11.25" height="12.40" fill="#403FA1"/>
<rect x="510.63" y="287.60" width="11.25" height="12.40" fill="#403FA2"/>
<rect x="520.88" y="287.60" width="11.25" height="12.40" fill="#4142A3"/>
<rect x="531.13" y="287.60" width="11.25" height="12.40" fill="#4245A5"/>
<rect x="541.38" y="287.60" width="11.25" height="12.40" fill="#4248A8"/>
<rect x="551.63" y="287.60" width="11.25" height="12.40" fill="#444CAB"/>
<rect x="561.88" y="287.60" width="11.25" height="12.40" fill="#4652AF"/>
<rect x="572.13" y="287.60" width="11.25" height="12.40" fill="#485EB8"/>
<rect x="582.38" y="287.60" width="11.25" height="12.40" fill="#4C84D0"/>
<rect x="592.62" y="287.60" width="11.25" height="12.40" fill="#52C29C"/>
<rect x="602.87" y="287.60" width="11.25" height="12.40" fill="#D0B034"/>
<rect x="613.12" y="287.60" width="11.25" height="12.40" fill="#D9A836"/>
<rect x="623.37" y="287.60" width="11.25" height="12.40" fill="#78CA54"/>
<rect x="633.62" y="287.60" width="11.25" height="12.40" fill="#4EC0A8"/>
<rect x="643.87" y="287.60" width="11.25" height="12.40" fill="#4CAAC8"/>
<rect x="654.12" y="287.60" width="11.25" height="12.40" fill="#4C9ED6"/>
<rect x="664.37" y="287.60" width="21.50" height="12.40" fill="#4C9CD8"/>
<rect x="684.87" y="287.60" width="11.25" height="12.40" fill="#4C9ED6"/>
<rect x="695.12" y="287.60" width="11.25" height="12.40" fill="#4AA8CA"/>
<rect x="705.36" y="287.60" width="11.25" height="12.40" fill="#4AB8B6"/>
<rect x="715.61" y="287.60" width="11.25" height="12.40" fill="#52C29A"/>
<rect x="725.86" y="287.60" width="11.25" height="12.40" fill="#62C674"/>
<rect x="736.11" y="287.60" width="11.25" height="12.40" fill="#76CA56"/>
<rect x="746.36" y="287.60" width="11.25" height="12.40" fill="#7ACA50"/>
<rect x="756.61" y="287.60" width="11.25" height="12.40" fill="#72C95C"/>
<rect x="766.86" y="287.60" width="11.25" height="12.40" fill="#64C670"/>
<rect x="777.11" y="287.60" width="11.25" height="12.40" fill="#5CC47C"/>
<rect x="787.36" y="287.60" width="11.25" height="12.40" fill="#5AC480"/>
<rect x="797.61" y="287.60" width="11.25" height="12.40" fill="#60C578"/>
<rect x="807.85" y="287.60" width="11.25" height="12.40" fill="#7ACA50"/>
<rect x="818.10" y="287.60" width="11.25" height="12.40" fill="#C8B236"/>
<rect x="828.35" y="287.60" width="11.25" height="12.40" fill="#BAB434"/>
<rect x="838.60" y="287.60" width="11.25" height="12.40" fill="#EEA43C"/>
<rect x="848.85" y="287.60" width="11.25" height="12.40" fill="#56C290"/>
<rect x="859.10" y="287.60" width="11.25" height="12.40" fill="#4E96DA"/>
<rect x="869.35" y="287.60" width="11.25" height="12.40" fill="#4866BE"/>
<rect x="879.60" y="287.60" width="11.25" height="12.40" fill="#4758B3"/>
<rect x="889.85" y="287.60" width="11.25" height="12.40" fill="#4552AE"/>
<rect x="900.10" y="287.60" width="11.25" height="12.40" fill="#444DAC"/>
<rect x="910.34" y="287.60" width="11.25" height="12.40" fill="#4349A9"/>
<rect x="920.59" y="287.60" width="11.25" height="12.40" fill="#4246A6"/>
<rect x="930.84" y="287.60" width="11.25" height="12.40" fill="#4143A4"/>
<rect x="941.09" y="287.60" width="11.25" height="12.40" fill="#4041A3"/>
<rect x="951.34" y="287.60" width="11.25" height="12.40" fill="#4041A2"/>
<rect x="961.59" y="287.60" width="31.75" height="12.40" fill="#4040A2"/>
<rect x="992.34" y="287.60" width="21.50" height="12.40" fill="#403FA2"/>
<rect x="1012.83" y="287.60" width="62.49" height="12.40" fill="#403FA1"/>
<rect x="1074.33" y="287.60" width="72.74" height="12.40" fill="#3F3EA1"/>
<rect x="1146.07" y="287.60" width="11.25" height="12.40" fill="#3F3EA0"/>
<rect x="1156.32" y="287.60" width="72.74" height="12.40" fill="#3F3DA0"/>
<rect x="1228.06" y="287.60" width="11.25" height="12.40" fill="#3F3CA0"/>
<rect x="1238.31" y="287.60" width="42.00" height="12.40" fill="#3F3C9F"/>
<rect x="1279.31" y="287.60" width="41.00" height="12.40" fill="#3E3B9F"/>
</g>
<g stroke="#231f20" stroke-width="2.8" fill="none">
<line x1="423.60" y1="2.8" x2="423.60" y2="11.6"/>
<line x1="423.60" y1="380.9" x2="423.60" y2="372.6"/>
<line x1="560.25" y1="2.8" x2="560.25" y2="11.6"/>
<line x1="560.25" y1="380.9" x2="560.25" y2="372.6"/>
<line x1="696.90" y1="2.8" x2="696.90" y2="11.6"/>
<line x1="696.90" y1="380.9" x2="696.90" y2="372.6"/>
<line x1="833.55" y1="2.8" x2="833.55" y2="11.6"/>
<line x1="833.55" y1="380.9" x2="833.55" y2="372.6"/>
<line x1="970.20" y1="2.8" x2="970.20" y2="11.6"/>
<line x1="970.20" y1="380.9" x2="970.20" y2="372.6"/>
<line x1="1106.85" y1="2.8" x2="1106.85" y2="11.6"/>
<line x1="1106.85" y1="380.9" x2="1106.85" y2="372.6"/>
<line x1="1243.50" y1="2.8" x2="1243.50" y2="11.6"/>
<line x1="1243.50" y1="380.9" x2="1243.50" y2="372.6"/>
<line x1="337.7" y1="356.50" x2="346.2" y2="356.50"/>
<line x1="1319.3" y1="356.50" x2="1310.6" y2="356.50"/>
<line x1="337.7" y1="277.25" x2="346.2" y2="277.25"/>
<line x1="1319.3" y1="277.25" x2="1310.6" y2="277.25"/>
<line x1="337.7" y1="198.00" x2="346.2" y2="198.00"/>
<line x1="1319.3" y1="198.00" x2="1310.6" y2="198.00"/>
<line x1="337.7" y1="118.75" x2="346.2" y2="118.75"/>
<line x1="1319.3" y1="118.75" x2="1310.6" y2="118.75"/>
<line x1="337.7" y1="39.50" x2="346.2" y2="39.50"/>
<line x1="1319.3" y1="39.50" x2="1310.6" y2="39.50"/>
<rect x="336.4" y="1.4" width="984.2" height="380.9" stroke-linejoin="round"/>
</g>
<g>
<text x="316.5" y="55.4" text-anchor="end">10</text>
<text x="314.3" y="137.4" text-anchor="end">5</text>
<text x="315.6" y="217.4" text-anchor="end">0</text>
<text transform="translate(254.56,298.4) scale(1.145,1)">−</text><text x="314.4" y="298.4" text-anchor="end">5</text>
<text transform="translate(226.66,379.0) scale(1.145,1)">−</text><text x="316.1" y="379.0" text-anchor="end">10</text>
<text transform="translate(377.96,453.4) scale(1.145,1)">−</text><text x="466.8" y="453.4" text-anchor="end">15</text>
<text transform="translate(513.46,453.4) scale(1.145,1)">−</text><text x="604.3" y="453.4" text-anchor="end">10</text>
<text transform="translate(664.46,453.4) scale(1.145,1)">−</text><text x="725.0" y="453.4" text-anchor="end">5</text>
<text x="846.5" y="453.4" text-anchor="end">0</text>
<text x="982.8" y="453.4" text-anchor="end">5</text>
<text x="1136.3" y="453.4" text-anchor="end">10</text>
<text x="1271.6" y="453.4" text-anchor="end">15</text>
<text class="i" transform="translate(776.3,521) scale(1.12,1)">θ</text><text transform="translate(804,521) scale(1,1.045)">/</text><text y="521" x="819.8 837.6 859.3">(°)</text>
<text transform="translate(200,0) rotate(-90)" y="0" x="-249.1 -211.2 -195.65 -178.2 -156.2"><tspan class="i" dy="1.4" style="font-family:'DejaVu Serif',serif;font-size:51.4px;stroke:#fff;stroke-width:1.0px">ψ</tspan><tspan dy="-1.4">/</tspan>(°)</text>
</g>
</svg>
</body></html>
